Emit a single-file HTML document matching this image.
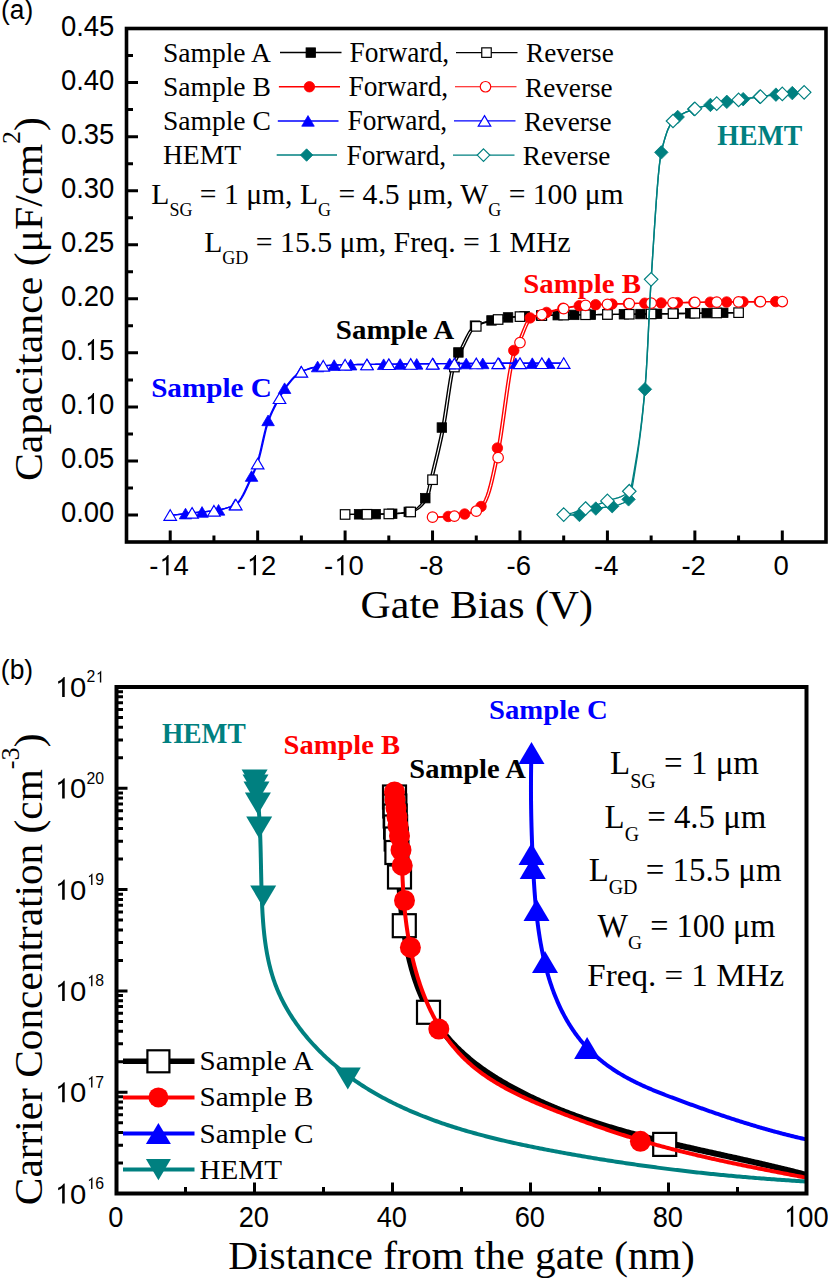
<!DOCTYPE html>
<html><head><meta charset="utf-8"><title>C-V and carrier concentration</title>
<style>html,body{margin:0;padding:0;background:#fff;overflow:hidden;}svg{display:block;}</style>
</head><body>
<svg width="828" height="1280" viewBox="0 0 828 1280">
<rect x="0" y="0" width="828" height="1280" fill="#ffffff"/>
<defs><clipPath id="ca"><rect x="126.5" y="28.5" width="699.5" height="513.5"/></clipPath>
<clipPath id="cb"><rect x="116.5" y="687.0" width="690.0" height="506.5"/></clipPath></defs>
<text id="t_lgA" transform="translate(162.94,61.6) scale(1.0205,1.0000)" font-family='"Liberation Serif", serif' font-size="27">Sample A</text>
<line x1="280" y1="52.6" x2="341.5" y2="52.6" stroke="#000000" stroke-width="1.5"/>
<rect x="306.05" y="47.85" width="9.5" height="9.5" fill="#000000" stroke="#000000" stroke-width="0.8"/>
<text id="t_fw" transform="translate(349.45,62.12) scale(1.0159,1.0535)" font-family='"Liberation Serif", serif' font-size="27">Forward,</text>
<line x1="456" y1="52.6" x2="517.5" y2="52.6" stroke="#000000" stroke-width="1.15"/>
<rect x="481.75" y="47.85" width="9.5" height="9.5" fill="#ffffff" stroke="#000000" stroke-width="1.2"/>
<text id="t_rv" transform="translate(526.11,62.48) scale(1.0076,1.0403)" font-family='"Liberation Serif", serif' font-size="27">Reverse</text>
<text transform="translate(162.94,95.75) scale(1.0205,1.0000)" font-family='"Liberation Serif", serif' font-size="27">Sample B</text>
<line x1="278.9" y1="86.75" x2="340" y2="86.75" stroke="#ff0000" stroke-width="1.5"/>
<circle cx="309.4" cy="86.75" r="5.25" fill="#ff0000" stroke="#ff0000" stroke-width="0.8"/>
<text transform="translate(348.45,96.27) scale(1.0159,1.0535)" font-family='"Liberation Serif", serif' font-size="27">Forward,</text>
<line x1="455" y1="86.75" x2="516.5" y2="86.75" stroke="#ff0000" stroke-width="1.15"/>
<circle cx="485.5" cy="86.75" r="5.25" fill="#ffffff" stroke="#ff0000" stroke-width="1.2"/>
<text transform="translate(525.01,96.63) scale(1.0076,1.0403)" font-family='"Liberation Serif", serif' font-size="27">Reverse</text>
<text transform="translate(162.94,129.9) scale(1.0205,1.0000)" font-family='"Liberation Serif", serif' font-size="27">Sample C</text>
<line x1="277.8" y1="120.9" x2="338.5" y2="120.9" stroke="#0000ff" stroke-width="1.5"/>
<path d="M308,115.59 L314.25,126.21 L301.75,126.21 Z" fill="#0000ff" stroke="#0000ff" stroke-width="0.8" stroke-linejoin="miter"/>
<text transform="translate(347.45,130.42) scale(1.0159,1.0535)" font-family='"Liberation Serif", serif' font-size="27">Forward,</text>
<line x1="454" y1="120.9" x2="515.5" y2="120.9" stroke="#0000ff" stroke-width="1.15"/>
<path d="M484.5,115.59 L490.75,126.21 L478.25,126.21 Z" fill="#ffffff" stroke="#0000ff" stroke-width="1.2" stroke-linejoin="miter"/>
<text transform="translate(523.91,130.78) scale(1.0076,1.0403)" font-family='"Liberation Serif", serif' font-size="27">Reverse</text>
<text transform="translate(162.94,164.05) scale(1.0205,1.0000)" font-family='"Liberation Serif", serif' font-size="27">HEMT</text>
<line x1="276.7" y1="155.05" x2="337" y2="155.05" stroke="#008080" stroke-width="1.5"/>
<path d="M306.6,148.8 L312.85,155.05 L306.6,161.3 L300.35,155.05 Z" fill="#008080" stroke="#008080" stroke-width="0.8"/>
<text transform="translate(346.45,164.57) scale(1.0159,1.0535)" font-family='"Liberation Serif", serif' font-size="27">Forward,</text>
<line x1="453" y1="155.05" x2="514.5" y2="155.05" stroke="#008080" stroke-width="1.15"/>
<path d="M483.5,148.8 L489.75,155.05 L483.5,161.3 L477.25,155.05 Z" fill="#ffffff" stroke="#008080" stroke-width="1.2"/>
<text transform="translate(522.81,164.93) scale(1.0076,1.0403)" font-family='"Liberation Serif", serif' font-size="27">Reverse</text>
<text id="t_par1" transform="translate(151.27,204.24) scale(1.0587,1.0599)" font-family='"Liberation Serif", serif' font-size="28">L<tspan font-size="17" dy="11.5">SG</tspan><tspan dy="-11.5"> = 1 μm, L<tspan font-size="17" dy="11.5">G</tspan><tspan dy="-11.5"> = 4.5 μm, W<tspan font-size="17" dy="11.5">G</tspan><tspan dy="-11.5"> = 100 μm</tspan></tspan></tspan></text>
<text id="t_par2" transform="translate(204.13,252.12) scale(1.0635,1.0600)" font-family='"Liberation Serif", serif' font-size="28">L<tspan font-size="17" dy="11.5">GD</tspan><tspan dy="-11.5"> = 15.5 μm, Freq. = 1 MHz</tspan></text>
<text id="t_bA" transform="translate(335.82,339.09) scale(1.0357,0.9813)" font-family='"Liberation Serif", serif' font-size="28" font-weight="bold" fill="#000000">Sample A</text>
<text id="t_bB" transform="translate(523.16,292.86) scale(1.0309,0.9895)" font-family='"Liberation Serif", serif' font-size="28" font-weight="bold" fill="#ff0000">Sample B</text>
<text id="t_bC" transform="translate(151.13,396.9) scale(1.0427,0.9813)" font-family='"Liberation Serif", serif' font-size="28" font-weight="bold" fill="#0000ff">Sample C</text>
<text id="t_bH" transform="translate(717.37,145.34) scale(0.9913,1.0500)" font-family='"Liberation Serif", serif' font-size="28" font-weight="bold" fill="#008080">HEMT</text>
<g clip-path="url(#ca)">
<path d="M346.41,514.43 L348.05,514.42 L349.68,514.4 L351.32,514.39 L352.95,514.37 L354.59,514.36 L356.22,514.34 L357.86,514.33 L359.49,514.32 L361.13,514.3 L362.77,514.29 L364.4,514.27 L366.04,514.26 L367.67,514.24 L369.31,514.22 L370.94,514.2 L372.58,514.18 L374.21,514.16 L375.85,514.14 L377.48,514.12 L379.12,514.09 L380.75,514.06 L382.39,514.03 L384.03,514 L385.66,513.96 L387.3,513.92 L388.93,513.88 L390.57,513.82 L392.2,513.74 L393.84,513.64 L395.47,513.53 L397.11,513.4 L398.74,513.25 L400.38,513.08 L402.01,512.89 L403.65,512.67 L405.29,512.44 L406.92,512.18 L408.56,511.9 L410.19,511.58 L411.83,511.06 L413.46,510.33 L415.1,509.38 L416.73,508.21 L418.37,506.8 L420,505.16 L421.64,503.27 L423.27,501.14 L424.91,498.77 L426.55,494.73 L428.18,487.93 L429.82,480.18 L431.45,473.15 L433.09,466.45 L434.72,459.72 L436.36,452.86 L437.99,445.77 L439.63,438.38 L441.26,430.56 L442.9,421.58 L444.53,411.19 L446.17,400.11 L447.81,389.09 L449.44,378.85 L451.08,370.13 L452.71,363.67 L454.35,359.63 L455.98,356.64 L457.62,353.89 L459.25,350.82 L460.89,347.51 L462.52,344.1 L464.16,340.67 L465.79,337.36 L467.43,334.26 L469.07,331.48 L470.7,329.13 L472.34,327.34 L473.97,326.18 L475.61,325.32 L477.24,324.58 L478.88,323.92 L480.51,323.35 L482.15,322.84 L483.78,322.37 L485.42,321.94 L487.05,321.53 L488.69,321.13 L490.33,320.72 L491.96,320.33 L493.6,319.94 L495.23,319.57 L496.87,319.22 L498.5,318.88 L500.14,318.57 L501.77,318.28 L503.41,318.02 L505.04,317.79 L506.68,317.58 L508.31,317.39 L509.95,317.22 L511.59,317.07 L513.22,316.92 L514.86,316.79 L516.49,316.67 L518.13,316.56 L519.76,316.46 L521.4,316.37 L523.03,316.27 L524.67,316.19 L526.3,316.1 L527.94,316.02 L529.57,315.94 L531.21,315.87 L532.85,315.81 L534.48,315.74 L536.12,315.69 L537.75,315.63 L539.39,315.59 L541.02,315.54 L542.66,315.5 L544.29,315.46 L545.93,315.43 L547.56,315.39 L549.2,315.35 L550.83,315.32 L552.47,315.28 L554.11,315.25 L555.74,315.21 L557.38,315.18 L559.01,315.15 L560.65,315.12 L562.28,315.09 L563.92,315.06 L565.55,315.03 L567.19,315 L568.82,314.98 L570.46,314.95 L572.09,314.92 L573.73,314.9 L575.37,314.87 L577,314.85 L578.64,314.83 L580.27,314.8 L581.91,314.78 L583.54,314.76 L585.18,314.73 L586.81,314.71 L588.45,314.69 L590.08,314.67 L591.72,314.65 L593.35,314.63 L594.99,314.61 L596.63,314.59 L598.26,314.57 L599.9,314.55 L601.53,314.53 L603.17,314.51 L604.8,314.49 L606.44,314.47 L608.07,314.45 L609.71,314.43 L611.34,314.42 L612.98,314.4 L614.61,314.38 L616.25,314.36 L617.89,314.34 L619.52,314.32 L621.16,314.3 L622.79,314.28 L624.43,314.26 L626.06,314.25 L627.7,314.23 L629.33,314.21 L630.97,314.19 L632.6,314.17 L634.24,314.15 L635.87,314.13 L637.51,314.1 L639.15,314.08 L640.78,314.06 L642.42,314.04 L644.05,314.02 L645.69,313.99 L647.32,313.97 L648.96,313.95 L650.59,313.92 L652.23,313.9 L653.86,313.87 L655.5,313.85 L657.13,313.83 L658.77,313.8 L660.41,313.78 L662.04,313.75 L663.68,313.73 L665.31,313.7 L666.95,313.68 L668.58,313.66 L670.22,313.63 L671.85,313.61 L673.49,313.58 L675.12,313.56 L676.76,313.53 L678.39,313.51 L680.03,313.49 L681.67,313.46 L683.3,313.44 L684.94,313.41 L686.57,313.39 L688.21,313.36 L689.84,313.34 L691.48,313.32 L693.11,313.29 L694.75,313.27 L696.38,313.24 L698.02,313.22 L699.65,313.19 L701.29,313.17 L702.93,313.15 L704.56,313.12 L706.2,313.1 L707.83,313.07 L709.47,313.05 L711.1,313.02 L712.74,313 L714.37,312.98 L716.01,312.95 L717.64,312.93 L719.28,312.9 L720.91,312.88 L722.55,312.86 L724.19,312.83 L725.82,312.81 L727.46,312.78 L729.09,312.76 L730.73,312.73 L732.36,312.71 L734,312.69 L735.63,312.66 L737.27,312.64" fill="none" stroke="#000000" stroke-width="1.4"/>
<rect x="354.34" y="509.57" width="9.5" height="9.5" fill="#000000" stroke="#000000" stroke-width="0.8"/>
<rect x="370.89" y="509.39" width="9.5" height="9.5" fill="#000000" stroke="#000000" stroke-width="0.8"/>
<rect x="387.45" y="508.99" width="9.5" height="9.5" fill="#000000" stroke="#000000" stroke-width="0.8"/>
<rect x="404" y="507.12" width="9.5" height="9.5" fill="#000000" stroke="#000000" stroke-width="0.8"/>
<rect x="420.55" y="493.38" width="9.5" height="9.5" fill="#000000" stroke="#000000" stroke-width="0.8"/>
<rect x="437.1" y="422.79" width="9.5" height="9.5" fill="#000000" stroke="#000000" stroke-width="0.8"/>
<rect x="453.65" y="347.7" width="9.5" height="9.5" fill="#000000" stroke="#000000" stroke-width="0.8"/>
<rect x="470.21" y="320.9" width="9.5" height="9.5" fill="#000000" stroke="#000000" stroke-width="0.8"/>
<rect x="486.76" y="315.68" width="9.5" height="9.5" fill="#000000" stroke="#000000" stroke-width="0.8"/>
<rect x="503.31" y="312.67" width="9.5" height="9.5" fill="#000000" stroke="#000000" stroke-width="0.8"/>
<rect x="519.86" y="311.44" width="9.5" height="9.5" fill="#000000" stroke="#000000" stroke-width="0.8"/>
<rect x="536.42" y="310.79" width="9.5" height="9.5" fill="#000000" stroke="#000000" stroke-width="0.8"/>
<rect x="552.97" y="310.43" width="9.5" height="9.5" fill="#000000" stroke="#000000" stroke-width="0.8"/>
<rect x="569.52" y="310.14" width="9.5" height="9.5" fill="#000000" stroke="#000000" stroke-width="0.8"/>
<rect x="586.07" y="309.91" width="9.5" height="9.5" fill="#000000" stroke="#000000" stroke-width="0.8"/>
<rect x="602.63" y="309.71" width="9.5" height="9.5" fill="#000000" stroke="#000000" stroke-width="0.8"/>
<rect x="619.18" y="309.52" width="9.5" height="9.5" fill="#000000" stroke="#000000" stroke-width="0.8"/>
<rect x="635.73" y="309.32" width="9.5" height="9.5" fill="#000000" stroke="#000000" stroke-width="0.8"/>
<rect x="652.28" y="309.08" width="9.5" height="9.5" fill="#000000" stroke="#000000" stroke-width="0.8"/>
<rect x="668.84" y="308.83" width="9.5" height="9.5" fill="#000000" stroke="#000000" stroke-width="0.8"/>
<rect x="685.39" y="308.59" width="9.5" height="9.5" fill="#000000" stroke="#000000" stroke-width="0.8"/>
<rect x="701.94" y="308.34" width="9.5" height="9.5" fill="#000000" stroke="#000000" stroke-width="0.8"/>
<rect x="718.49" y="308.09" width="9.5" height="9.5" fill="#000000" stroke="#000000" stroke-width="0.8"/>
<path d="M346.41,514.46 L348.05,514.44 L349.68,514.43 L351.32,514.41 L352.95,514.4 L354.59,514.38 L356.22,514.37 L357.86,514.35 L359.49,514.34 L361.13,514.33 L362.77,514.31 L364.4,514.3 L366.04,514.28 L367.67,514.27 L369.31,514.25 L370.94,514.23 L372.58,514.22 L374.21,514.2 L375.85,514.18 L377.48,514.15 L379.12,514.13 L380.75,514.1 L382.39,514.08 L384.03,514.05 L385.66,514.02 L387.3,513.98 L388.93,513.95 L390.57,513.91 L392.2,513.86 L393.84,513.79 L395.47,513.7 L397.11,513.6 L398.74,513.48 L400.38,513.34 L402.01,513.18 L403.65,513 L405.29,512.8 L406.92,512.58 L408.56,512.34 L410.19,512.08 L411.83,511.79 L413.46,511.4 L415.1,510.8 L416.73,509.98 L418.37,508.94 L420,507.68 L421.64,506.18 L423.27,504.44 L424.91,502.46 L426.55,500.23 L428.18,497.6 L429.82,492.27 L431.45,484.87 L433.09,477.26 L434.72,470.49 L436.36,463.79 L437.99,457.02 L439.63,450.08 L441.26,442.89 L442.9,435.34 L444.53,427.23 L446.17,417.6 L447.81,406.84 L449.44,395.7 L451.08,384.9 L452.71,375.18 L454.35,367.26 L455.98,361.88 L457.62,358.36 L459.25,355.57 L460.89,352.71 L462.52,349.53 L464.16,346.17 L465.79,342.74 L467.43,339.34 L469.07,336.1 L470.7,333.11 L472.34,330.49 L473.97,328.35 L475.61,326.8 L477.24,325.83 L478.88,325.02 L480.51,324.31 L482.15,323.69 L483.78,323.14 L485.42,322.65 L487.05,322.2 L488.69,321.78 L490.33,321.38 L491.96,320.97 L493.6,320.56 L495.23,320.17 L496.87,319.79 L498.5,319.43 L500.14,319.08 L501.77,318.76 L503.41,318.46 L505.04,318.18 L506.68,317.92 L508.31,317.7 L509.95,317.5 L511.59,317.32 L513.22,317.16 L514.86,317.01 L516.49,316.87 L518.13,316.74 L519.76,316.63 L521.4,316.52 L523.03,316.42 L524.67,316.33 L526.3,316.24 L527.94,316.15 L529.57,316.07 L531.21,315.99 L532.85,315.92 L534.48,315.85 L536.12,315.78 L537.75,315.72 L539.39,315.66 L541.02,315.61 L542.66,315.57 L544.29,315.53 L545.93,315.49 L547.56,315.45 L549.2,315.41 L550.83,315.37 L552.47,315.34 L554.11,315.3 L555.74,315.27 L557.38,315.23 L559.01,315.2 L560.65,315.17 L562.28,315.14 L563.92,315.11 L565.55,315.08 L567.19,315.05 L568.82,315.02 L570.46,314.99 L572.09,314.97 L573.73,314.94 L575.37,314.91 L577,314.89 L578.64,314.86 L580.27,314.84 L581.91,314.82 L583.54,314.79 L585.18,314.77 L586.81,314.75 L588.45,314.73 L590.08,314.7 L591.72,314.68 L593.35,314.66 L594.99,314.64 L596.63,314.62 L598.26,314.6 L599.9,314.58 L601.53,314.56 L603.17,314.54 L604.8,314.52 L606.44,314.5 L608.07,314.48 L609.71,314.46 L611.34,314.45 L612.98,314.43 L614.61,314.41 L616.25,314.39 L617.89,314.37 L619.52,314.35 L621.16,314.33 L622.79,314.31 L624.43,314.3 L626.06,314.28 L627.7,314.26 L629.33,314.24 L630.97,314.22 L632.6,314.2 L634.24,314.18 L635.87,314.16 L637.51,314.14 L639.15,314.12 L640.78,314.1 L642.42,314.07 L644.05,314.05 L645.69,314.03 L647.32,314.01 L648.96,313.98 L650.59,313.96 L652.23,313.94 L653.86,313.91 L655.5,313.89 L657.13,313.86 L658.77,313.84 L660.41,313.82 L662.04,313.79 L663.68,313.77 L665.31,313.74 L666.95,313.72 L668.58,313.69 L670.22,313.67 L671.85,313.65 L673.49,313.62 L675.12,313.6 L676.76,313.57 L678.39,313.55 L680.03,313.52 L681.67,313.5 L683.3,313.48 L684.94,313.45 L686.57,313.43 L688.21,313.4 L689.84,313.38 L691.48,313.36 L693.11,313.33 L694.75,313.31 L696.38,313.28 L698.02,313.26 L699.65,313.23 L701.29,313.21 L702.93,313.19 L704.56,313.16 L706.2,313.14 L707.83,313.11 L709.47,313.09 L711.1,313.06 L712.74,313.04 L714.37,313.02 L716.01,312.99 L717.64,312.97 L719.28,312.94 L720.91,312.92 L722.55,312.89 L724.19,312.87 L725.82,312.85 L727.46,312.82 L729.09,312.8 L730.73,312.77 L732.36,312.75 L734,312.72 L735.63,312.7 L737.27,312.68" fill="none" stroke="#000000" stroke-width="1.4"/>
<rect x="340.35" y="509.72" width="9.5" height="9.5" fill="#ffffff" stroke="#000000" stroke-width="1.2"/>
<rect x="362.21" y="509.52" width="9.5" height="9.5" fill="#ffffff" stroke="#000000" stroke-width="1.2"/>
<rect x="384.07" y="509.2" width="9.5" height="9.5" fill="#ffffff" stroke="#000000" stroke-width="1.2"/>
<rect x="405.93" y="507.24" width="9.5" height="9.5" fill="#ffffff" stroke="#000000" stroke-width="1.2"/>
<rect x="427.79" y="474.96" width="9.5" height="9.5" fill="#ffffff" stroke="#000000" stroke-width="1.2"/>
<rect x="449.65" y="362.3" width="9.5" height="9.5" fill="#ffffff" stroke="#000000" stroke-width="1.2"/>
<rect x="471.51" y="321.62" width="9.5" height="9.5" fill="#ffffff" stroke="#000000" stroke-width="1.2"/>
<rect x="493.37" y="314.76" width="9.5" height="9.5" fill="#ffffff" stroke="#000000" stroke-width="1.2"/>
<rect x="515.23" y="311.86" width="9.5" height="9.5" fill="#ffffff" stroke="#000000" stroke-width="1.2"/>
<rect x="537.09" y="310.84" width="9.5" height="9.5" fill="#ffffff" stroke="#000000" stroke-width="1.2"/>
<rect x="558.95" y="310.36" width="9.5" height="9.5" fill="#ffffff" stroke="#000000" stroke-width="1.2"/>
<rect x="580.81" y="310.01" width="9.5" height="9.5" fill="#ffffff" stroke="#000000" stroke-width="1.2"/>
<rect x="602.67" y="309.74" width="9.5" height="9.5" fill="#ffffff" stroke="#000000" stroke-width="1.2"/>
<rect x="624.53" y="309.49" width="9.5" height="9.5" fill="#ffffff" stroke="#000000" stroke-width="1.2"/>
<rect x="646.39" y="309.2" width="9.5" height="9.5" fill="#ffffff" stroke="#000000" stroke-width="1.2"/>
<rect x="668.25" y="308.88" width="9.5" height="9.5" fill="#ffffff" stroke="#000000" stroke-width="1.2"/>
<rect x="690.11" y="308.55" width="9.5" height="9.5" fill="#ffffff" stroke="#000000" stroke-width="1.2"/>
<rect x="711.97" y="308.23" width="9.5" height="9.5" fill="#ffffff" stroke="#000000" stroke-width="1.2"/>
<rect x="733.83" y="307.91" width="9.5" height="9.5" fill="#ffffff" stroke="#000000" stroke-width="1.2"/>
<path d="M433.85,517.14 L435.3,517.11 L436.76,517.08 L438.21,517.03 L439.66,516.97 L441.11,516.9 L442.57,516.82 L444.02,516.74 L445.47,516.65 L446.92,516.55 L448.38,516.45 L449.83,516.34 L451.28,516.23 L452.73,516.11 L454.19,515.98 L455.64,515.82 L457.09,515.62 L458.54,515.38 L460,515.11 L461.45,514.82 L462.9,514.49 L464.35,514.13 L465.81,513.74 L467.26,513.32 L468.71,512.87 L470.16,512.4 L471.62,511.91 L473.07,511.39 L474.52,510.84 L475.97,510.25 L477.43,509.49 L478.88,508.53 L480.33,507.3 L481.78,505.41 L483.24,502.75 L484.69,499.53 L486.14,495.95 L487.59,491.67 L489.04,486.56 L490.5,480.77 L491.95,474.44 L493.4,467.73 L494.85,460.76 L496.31,453.69 L497.76,446.01 L499.21,437.15 L500.66,427.43 L502.12,417.15 L503.57,406.6 L505.02,396.1 L506.47,385.94 L507.93,376.43 L509.38,367.86 L510.83,360.55 L512.28,354.79 L513.74,350.54 L515.19,347.07 L516.64,344.04 L518.09,341.1 L519.55,337.89 L521,334.37 L522.45,330.72 L523.9,327.17 L525.36,323.93 L526.81,321.21 L528.26,319.24 L529.71,318.14 L531.17,317.38 L532.62,316.76 L534.07,316.24 L535.52,315.79 L536.98,315.38 L538.43,314.97 L539.88,314.54 L541.33,314.08 L542.79,313.61 L544.24,313.15 L545.69,312.69 L547.14,312.24 L548.6,311.8 L550.05,311.37 L551.5,310.95 L552.95,310.54 L554.41,310.15 L555.86,309.78 L557.31,309.43 L558.76,309.09 L560.22,308.78 L561.67,308.5 L563.12,308.23 L564.57,307.96 L566.03,307.69 L567.48,307.43 L568.93,307.18 L570.38,306.94 L571.83,306.7 L573.29,306.48 L574.74,306.27 L576.19,306.07 L577.64,305.89 L579.1,305.72 L580.55,305.57 L582,305.45 L583.45,305.34 L584.91,305.25 L586.36,305.16 L587.81,305.08 L589.26,305 L590.72,304.92 L592.17,304.85 L593.62,304.78 L595.07,304.7 L596.53,304.64 L597.98,304.57 L599.43,304.5 L600.88,304.44 L602.34,304.38 L603.79,304.32 L605.24,304.26 L606.69,304.21 L608.15,304.15 L609.6,304.1 L611.05,304.05 L612.5,304 L613.96,303.95 L615.41,303.91 L616.86,303.86 L618.31,303.82 L619.77,303.78 L621.22,303.74 L622.67,303.7 L624.12,303.66 L625.58,303.62 L627.03,303.59 L628.48,303.55 L629.93,303.52 L631.39,303.48 L632.84,303.45 L634.29,303.42 L635.74,303.39 L637.2,303.36 L638.65,303.33 L640.1,303.3 L641.55,303.27 L643.01,303.25 L644.46,303.22 L645.91,303.19 L647.36,303.17 L648.81,303.14 L650.27,303.12 L651.72,303.09 L653.17,303.07 L654.62,303.04 L656.08,303.02 L657.53,302.99 L658.98,302.97 L660.43,302.94 L661.89,302.92 L663.34,302.89 L664.79,302.87 L666.24,302.85 L667.7,302.82 L669.15,302.8 L670.6,302.78 L672.05,302.75 L673.51,302.73 L674.96,302.7 L676.41,302.68 L677.86,302.66 L679.32,302.64 L680.77,302.61 L682.22,302.59 L683.67,302.57 L685.13,302.55 L686.58,302.52 L688.03,302.5 L689.48,302.48 L690.94,302.46 L692.39,302.44 L693.84,302.41 L695.29,302.39 L696.75,302.37 L698.2,302.35 L699.65,302.33 L701.1,302.31 L702.56,302.29 L704.01,302.27 L705.46,302.25 L706.91,302.23 L708.37,302.21 L709.82,302.19 L711.27,302.17 L712.72,302.15 L714.18,302.13 L715.63,302.11 L717.08,302.1 L718.53,302.08 L719.99,302.06 L721.44,302.04 L722.89,302.02 L724.34,302.01 L725.8,301.99 L727.25,301.97 L728.7,301.96 L730.15,301.94 L731.6,301.92 L733.06,301.91 L734.51,301.89 L735.96,301.88 L737.41,301.86 L738.87,301.85 L740.32,301.83 L741.77,301.82 L743.22,301.81 L744.68,301.79 L746.13,301.78 L747.58,301.76 L749.03,301.75 L750.49,301.74 L751.94,301.73 L753.39,301.71 L754.84,301.7 L756.3,301.69 L757.75,301.68 L759.2,301.67 L760.65,301.66 L762.11,301.65 L763.56,301.64 L765.01,301.63 L766.46,301.62 L767.92,301.61 L769.37,301.6 L770.82,301.59 L772.27,301.59 L773.73,301.58 L775.18,301.57 L776.63,301.56 L778.08,301.56 L779.54,301.55 L780.99,301.55" fill="none" stroke="#ff0000" stroke-width="1.4"/>
<circle cx="448.28" cy="516.46" r="5.25" fill="#ff0000" stroke="#ff0000" stroke-width="0.8"/>
<circle cx="464.65" cy="514.05" r="5.25" fill="#ff0000" stroke="#ff0000" stroke-width="0.8"/>
<circle cx="481.03" cy="506.51" r="5.25" fill="#ff0000" stroke="#ff0000" stroke-width="0.8"/>
<circle cx="497.4" cy="448.04" r="5.25" fill="#ff0000" stroke="#ff0000" stroke-width="0.8"/>
<circle cx="513.77" cy="350.44" r="5.25" fill="#ff0000" stroke="#ff0000" stroke-width="0.8"/>
<circle cx="530.14" cy="317.9" r="5.25" fill="#ff0000" stroke="#ff0000" stroke-width="0.8"/>
<circle cx="546.52" cy="312.44" r="5.25" fill="#ff0000" stroke="#ff0000" stroke-width="0.8"/>
<circle cx="562.89" cy="308.27" r="5.25" fill="#ff0000" stroke="#ff0000" stroke-width="0.8"/>
<circle cx="579.26" cy="305.7" r="5.25" fill="#ff0000" stroke="#ff0000" stroke-width="0.8"/>
<circle cx="595.64" cy="304.68" r="5.25" fill="#ff0000" stroke="#ff0000" stroke-width="0.8"/>
<circle cx="612.01" cy="304.02" r="5.25" fill="#ff0000" stroke="#ff0000" stroke-width="0.8"/>
<circle cx="628.38" cy="303.55" r="5.25" fill="#ff0000" stroke="#ff0000" stroke-width="0.8"/>
<circle cx="644.76" cy="303.21" r="5.25" fill="#ff0000" stroke="#ff0000" stroke-width="0.8"/>
<circle cx="661.13" cy="302.93" r="5.25" fill="#ff0000" stroke="#ff0000" stroke-width="0.8"/>
<circle cx="677.5" cy="302.66" r="5.25" fill="#ff0000" stroke="#ff0000" stroke-width="0.8"/>
<circle cx="693.88" cy="302.41" r="5.25" fill="#ff0000" stroke="#ff0000" stroke-width="0.8"/>
<circle cx="710.25" cy="302.18" r="5.25" fill="#ff0000" stroke="#ff0000" stroke-width="0.8"/>
<circle cx="726.62" cy="301.98" r="5.25" fill="#ff0000" stroke="#ff0000" stroke-width="0.8"/>
<circle cx="743" cy="301.81" r="5.25" fill="#ff0000" stroke="#ff0000" stroke-width="0.8"/>
<circle cx="759.37" cy="301.67" r="5.25" fill="#ff0000" stroke="#ff0000" stroke-width="0.8"/>
<circle cx="775.74" cy="301.57" r="5.25" fill="#ff0000" stroke="#ff0000" stroke-width="0.8"/>
<path d="M433.85,517.16 L435.3,517.16 L436.76,517.14 L438.21,517.11 L439.66,517.07 L441.11,517.02 L442.57,516.96 L444.02,516.89 L445.47,516.81 L446.92,516.72 L448.38,516.63 L449.83,516.53 L451.28,516.43 L452.73,516.32 L454.19,516.2 L455.64,516.09 L457.09,515.95 L458.54,515.78 L460,515.57 L461.45,515.33 L462.9,515.06 L464.35,514.75 L465.81,514.42 L467.26,514.05 L468.71,513.66 L470.16,513.23 L471.62,512.78 L473.07,512.31 L474.52,511.81 L475.97,511.28 L477.43,510.73 L478.88,510.11 L480.33,509.33 L481.78,508.32 L483.24,507.01 L484.69,504.95 L486.14,502.17 L487.59,498.86 L489.04,495.19 L490.5,490.73 L491.95,485.48 L493.4,479.58 L494.85,473.17 L496.31,466.39 L497.76,459.39 L499.21,452.31 L500.66,444.37 L502.12,435.32 L503.57,425.47 L505.02,415.11 L506.47,404.55 L507.93,394.09 L509.38,384.04 L510.83,374.68 L512.28,366.34 L513.74,359.3 L515.19,353.87 L516.64,349.81 L518.09,346.46 L519.55,343.48 L521,340.51 L522.45,337.23 L523.9,333.66 L525.36,330.02 L526.81,326.51 L528.26,323.36 L529.71,320.77 L531.17,318.96 L532.62,317.98 L534.07,317.25 L535.52,316.65 L536.98,316.15 L538.43,315.71 L539.88,315.3 L541.33,314.89 L542.79,314.45 L544.24,313.99 L545.69,313.52 L547.14,313.06 L548.6,312.61 L550.05,312.16 L551.5,311.72 L552.95,311.29 L554.41,310.87 L555.86,310.47 L557.31,310.08 L558.76,309.71 L560.22,309.36 L561.67,309.03 L563.12,308.73 L564.57,308.45 L566.03,308.17 L567.48,307.9 L568.93,307.64 L570.38,307.38 L571.83,307.13 L573.29,306.89 L574.74,306.66 L576.19,306.44 L577.64,306.23 L579.1,306.03 L580.55,305.86 L582,305.69 L583.45,305.55 L584.91,305.42 L586.36,305.32 L587.81,305.23 L589.26,305.15 L590.72,305.07 L592.17,304.99 L593.62,304.91 L595.07,304.83 L596.53,304.76 L597.98,304.69 L599.43,304.62 L600.88,304.56 L602.34,304.49 L603.79,304.43 L605.24,304.37 L606.69,304.31 L608.15,304.25 L609.6,304.2 L611.05,304.14 L612.5,304.09 L613.96,304.04 L615.41,303.99 L616.86,303.95 L618.31,303.9 L619.77,303.85 L621.22,303.81 L622.67,303.77 L624.12,303.73 L625.58,303.69 L627.03,303.65 L628.48,303.61 L629.93,303.58 L631.39,303.54 L632.84,303.51 L634.29,303.48 L635.74,303.44 L637.2,303.41 L638.65,303.38 L640.1,303.35 L641.55,303.32 L643.01,303.3 L644.46,303.27 L645.91,303.24 L647.36,303.21 L648.81,303.19 L650.27,303.16 L651.72,303.14 L653.17,303.11 L654.62,303.09 L656.08,303.06 L657.53,303.04 L658.98,303.01 L660.43,302.99 L661.89,302.96 L663.34,302.94 L664.79,302.91 L666.24,302.89 L667.7,302.87 L669.15,302.84 L670.6,302.82 L672.05,302.79 L673.51,302.77 L674.96,302.75 L676.41,302.72 L677.86,302.7 L679.32,302.68 L680.77,302.65 L682.22,302.63 L683.67,302.61 L685.13,302.59 L686.58,302.56 L688.03,302.54 L689.48,302.52 L690.94,302.5 L692.39,302.47 L693.84,302.45 L695.29,302.43 L696.75,302.41 L698.2,302.39 L699.65,302.37 L701.1,302.35 L702.56,302.33 L704.01,302.31 L705.46,302.29 L706.91,302.27 L708.37,302.25 L709.82,302.23 L711.27,302.21 L712.72,302.19 L714.18,302.17 L715.63,302.15 L717.08,302.13 L718.53,302.11 L719.99,302.09 L721.44,302.07 L722.89,302.06 L724.34,302.04 L725.8,302.02 L727.25,302 L728.7,301.99 L730.15,301.97 L731.6,301.95 L733.06,301.94 L734.51,301.92 L735.96,301.91 L737.41,301.89 L738.87,301.87 L740.32,301.86 L741.77,301.85 L743.22,301.83 L744.68,301.82 L746.13,301.8 L747.58,301.79 L749.03,301.78 L750.49,301.76 L751.94,301.75 L753.39,301.74 L754.84,301.72 L756.3,301.71 L757.75,301.7 L759.2,301.69 L760.65,301.68 L762.11,301.67 L763.56,301.66 L765.01,301.65 L766.46,301.64 L767.92,301.63 L769.37,301.62 L770.82,301.61 L772.27,301.6 L773.73,301.59 L775.18,301.59 L776.63,301.58 L778.08,301.57 L779.54,301.56 L780.99,301.56" fill="none" stroke="#ff0000" stroke-width="1.4"/>
<circle cx="432.54" cy="517.16" r="5.25" fill="#ffffff" stroke="#ff0000" stroke-width="1.2"/>
<circle cx="454.4" cy="516.19" r="5.25" fill="#ffffff" stroke="#ff0000" stroke-width="1.2"/>
<circle cx="476.26" cy="511.17" r="5.25" fill="#ffffff" stroke="#ff0000" stroke-width="1.2"/>
<circle cx="498.12" cy="457.64" r="5.25" fill="#ffffff" stroke="#ff0000" stroke-width="1.2"/>
<circle cx="519.98" cy="342.6" r="5.25" fill="#ffffff" stroke="#ff0000" stroke-width="1.2"/>
<circle cx="541.84" cy="314.74" r="5.25" fill="#ffffff" stroke="#ff0000" stroke-width="1.2"/>
<circle cx="563.7" cy="308.61" r="5.25" fill="#ffffff" stroke="#ff0000" stroke-width="1.2"/>
<circle cx="585.56" cy="305.37" r="5.25" fill="#ffffff" stroke="#ff0000" stroke-width="1.2"/>
<circle cx="607.42" cy="304.28" r="5.25" fill="#ffffff" stroke="#ff0000" stroke-width="1.2"/>
<circle cx="629.28" cy="303.59" r="5.25" fill="#ffffff" stroke="#ff0000" stroke-width="1.2"/>
<circle cx="651.14" cy="303.15" r="5.25" fill="#ffffff" stroke="#ff0000" stroke-width="1.2"/>
<circle cx="673" cy="302.78" r="5.25" fill="#ffffff" stroke="#ff0000" stroke-width="1.2"/>
<circle cx="694.86" cy="302.44" r="5.25" fill="#ffffff" stroke="#ff0000" stroke-width="1.2"/>
<circle cx="716.72" cy="302.13" r="5.25" fill="#ffffff" stroke="#ff0000" stroke-width="1.2"/>
<circle cx="738.58" cy="301.88" r="5.25" fill="#ffffff" stroke="#ff0000" stroke-width="1.2"/>
<circle cx="760.44" cy="301.68" r="5.25" fill="#ffffff" stroke="#ff0000" stroke-width="1.2"/>
<circle cx="782.3" cy="301.55" r="5.25" fill="#ffffff" stroke="#ff0000" stroke-width="1.2"/>
<path d="M170.66,514.99 L172.3,514.95 L173.94,514.86 L175.59,514.74 L177.23,514.58 L178.87,514.41 L180.51,514.21 L182.16,514.01 L183.8,513.79 L185.44,513.58 L187.08,513.36 L188.73,513.16 L190.37,512.97 L192.01,512.8 L193.66,512.65 L195.3,512.5 L196.94,512.36 L198.58,512.22 L200.23,512.09 L201.87,511.95 L203.51,511.81 L205.15,511.66 L206.8,511.49 L208.44,511.32 L210.08,511.13 L211.72,510.92 L213.37,510.7 L215.01,510.45 L216.65,510.18 L218.3,509.89 L219.94,509.57 L221.58,509.23 L223.22,508.84 L224.87,508.41 L226.51,507.94 L228.15,507.42 L229.79,506.84 L231.44,506.2 L233.08,505.5 L234.72,504.73 L236.37,503.77 L238.01,502.23 L239.65,500.14 L241.29,497.58 L242.94,494.63 L244.58,491.38 L246.22,487.91 L247.86,484.29 L249.51,480.62 L251.15,476.98 L252.79,473.43 L254.43,469.72 L256.08,465.58 L257.72,460.81 L259.36,454.79 L261.01,447.82 L262.65,440.47 L264.29,433.3 L265.93,426.88 L267.58,421.75 L269.22,417.45 L270.86,413.54 L272.5,409.94 L274.15,406.59 L275.79,403.43 L277.43,400.39 L279.08,397.4 L280.72,394.46 L282.36,391.64 L284,389.06 L285.65,386.79 L287.29,384.71 L288.93,382.67 L290.57,380.69 L292.22,378.8 L293.86,377.04 L295.5,375.44 L297.15,374.03 L298.79,372.84 L300.43,371.9 L302.07,371.18 L303.72,370.51 L305.36,369.88 L307,369.29 L308.64,368.74 L310.29,368.23 L311.93,367.76 L313.57,367.34 L315.21,366.97 L316.86,366.63 L318.5,366.35 L320.14,366.11 L321.79,365.92 L323.43,365.77 L325.07,365.64 L326.71,365.52 L328.36,365.41 L330,365.3 L331.64,365.21 L333.28,365.12 L334.93,365.04 L336.57,364.97 L338.21,364.9 L339.86,364.85 L341.5,364.8 L343.14,364.77 L344.78,364.74 L346.43,364.71 L348.07,364.69 L349.71,364.67 L351.35,364.64 L353,364.62 L354.64,364.59 L356.28,364.57 L357.93,364.55 L359.57,364.53 L361.21,364.5 L362.85,364.48 L364.5,364.46 L366.14,364.44 L367.78,364.41 L369.42,364.39 L371.07,364.37 L372.71,364.35 L374.35,364.33 L375.99,364.31 L377.64,364.29 L379.28,364.27 L380.92,364.25 L382.57,364.23 L384.21,364.21 L385.85,364.19 L387.49,364.17 L389.14,364.15 L390.78,364.13 L392.42,364.11 L394.06,364.09 L395.71,364.08 L397.35,364.06 L398.99,364.04 L400.64,364.02 L402.28,364.01 L403.92,363.99 L405.56,363.97 L407.21,363.95 L408.85,363.94 L410.49,363.92 L412.13,363.9 L413.78,363.89 L415.42,363.87 L417.06,363.86 L418.71,363.84 L420.35,363.83 L421.99,363.81 L423.63,363.8 L425.28,363.78 L426.92,363.77 L428.56,363.75 L430.2,363.74 L431.85,363.72 L433.49,363.71 L435.13,363.7 L436.77,363.68 L438.42,363.67 L440.06,363.66 L441.7,363.64 L443.35,363.63 L444.99,363.62 L446.63,363.6 L448.27,363.59 L449.92,363.58 L451.56,363.57 L453.2,363.56 L454.84,363.55 L456.49,363.53 L458.13,363.52 L459.77,363.51 L461.42,363.5 L463.06,363.49 L464.7,363.48 L466.34,363.47 L467.99,363.46 L469.63,363.45 L471.27,363.44 L472.91,363.43 L474.56,363.42 L476.2,363.41 L477.84,363.4 L479.49,363.39 L481.13,363.38 L482.77,363.37 L484.41,363.37 L486.06,363.36 L487.7,363.35 L489.34,363.34 L490.98,363.33 L492.63,363.33 L494.27,363.32 L495.91,363.31 L497.55,363.3 L499.2,363.3 L500.84,363.29 L502.48,363.28 L504.13,363.28 L505.77,363.27 L507.41,363.26 L509.05,363.26 L510.7,363.25 L512.34,363.24 L513.98,363.24 L515.62,363.23 L517.27,363.23 L518.91,363.22 L520.55,363.22 L522.2,363.21 L523.84,363.21 L525.48,363.2 L527.12,363.2 L528.77,363.19 L530.41,363.19 L532.05,363.18 L533.69,363.18 L535.34,363.18 L536.98,363.17 L538.62,363.17 L540.26,363.17 L541.91,363.16 L543.55,363.16 L545.19,363.16 L546.84,363.15 L548.48,363.15 L550.12,363.15 L551.76,363.14 L553.41,363.14 L555.05,363.14 L556.69,363.14 L558.33,363.14 L559.98,363.13 L561.62,363.13 L563.26,363.13" fill="none" stroke="#0000ff" stroke-width="1.4"/>
<path d="M185.52,508.25 L191.77,518.88 L179.27,518.88 Z" fill="#0000ff" stroke="#0000ff" stroke-width="0.8" stroke-linejoin="miter"/>
<path d="M202.04,506.62 L208.29,517.25 L195.79,517.25 Z" fill="#0000ff" stroke="#0000ff" stroke-width="0.8" stroke-linejoin="miter"/>
<path d="M218.55,504.53 L224.8,515.16 L212.3,515.16 Z" fill="#0000ff" stroke="#0000ff" stroke-width="0.8" stroke-linejoin="miter"/>
<path d="M235.06,499.25 L241.31,509.87 L228.81,509.87 Z" fill="#0000ff" stroke="#0000ff" stroke-width="0.8" stroke-linejoin="miter"/>
<path d="M251.57,470.74 L257.82,481.37 L245.32,481.37 Z" fill="#0000ff" stroke="#0000ff" stroke-width="0.8" stroke-linejoin="miter"/>
<path d="M268.09,415.06 L274.34,425.68 L261.84,425.68 Z" fill="#0000ff" stroke="#0000ff" stroke-width="0.8" stroke-linejoin="miter"/>
<path d="M284.6,382.88 L290.85,393.5 L278.35,393.5 Z" fill="#0000ff" stroke="#0000ff" stroke-width="0.8" stroke-linejoin="miter"/>
<path d="M301.11,366.27 L307.36,376.9 L294.86,376.9 Z" fill="#0000ff" stroke="#0000ff" stroke-width="0.8" stroke-linejoin="miter"/>
<path d="M317.63,361.18 L323.88,371.81 L311.38,371.81 Z" fill="#0000ff" stroke="#0000ff" stroke-width="0.8" stroke-linejoin="miter"/>
<path d="M334.14,359.76 L340.39,370.39 L327.89,370.39 Z" fill="#0000ff" stroke="#0000ff" stroke-width="0.8" stroke-linejoin="miter"/>
<path d="M350.65,359.34 L356.9,369.96 L344.4,369.96 Z" fill="#0000ff" stroke="#0000ff" stroke-width="0.8" stroke-linejoin="miter"/>
<path d="M367.17,359.11 L373.42,369.74 L360.92,369.74 Z" fill="#0000ff" stroke="#0000ff" stroke-width="0.8" stroke-linejoin="miter"/>
<path d="M383.68,358.9 L389.93,369.53 L377.43,369.53 Z" fill="#0000ff" stroke="#0000ff" stroke-width="0.8" stroke-linejoin="miter"/>
<path d="M400.19,358.71 L406.44,369.34 L393.94,369.34 Z" fill="#0000ff" stroke="#0000ff" stroke-width="0.8" stroke-linejoin="miter"/>
<path d="M416.7,358.55 L422.95,369.17 L410.45,369.17 Z" fill="#0000ff" stroke="#0000ff" stroke-width="0.8" stroke-linejoin="miter"/>
<path d="M433.22,358.4 L439.47,369.02 L426.97,369.02 Z" fill="#0000ff" stroke="#0000ff" stroke-width="0.8" stroke-linejoin="miter"/>
<path d="M449.73,358.27 L455.98,368.89 L443.48,368.89 Z" fill="#0000ff" stroke="#0000ff" stroke-width="0.8" stroke-linejoin="miter"/>
<path d="M466.24,358.16 L472.49,368.78 L459.99,368.78 Z" fill="#0000ff" stroke="#0000ff" stroke-width="0.8" stroke-linejoin="miter"/>
<path d="M482.76,358.06 L489.01,368.69 L476.51,368.69 Z" fill="#0000ff" stroke="#0000ff" stroke-width="0.8" stroke-linejoin="miter"/>
<path d="M499.27,357.98 L505.52,368.61 L493.02,368.61 Z" fill="#0000ff" stroke="#0000ff" stroke-width="0.8" stroke-linejoin="miter"/>
<path d="M515.78,357.92 L522.03,368.54 L509.53,368.54 Z" fill="#0000ff" stroke="#0000ff" stroke-width="0.8" stroke-linejoin="miter"/>
<path d="M532.3,357.87 L538.55,368.5 L526.05,368.5 Z" fill="#0000ff" stroke="#0000ff" stroke-width="0.8" stroke-linejoin="miter"/>
<path d="M548.81,357.84 L555.06,368.46 L542.56,368.46 Z" fill="#0000ff" stroke="#0000ff" stroke-width="0.8" stroke-linejoin="miter"/>
<path d="M170.66,515 L172.3,514.98 L173.94,514.91 L175.59,514.81 L177.23,514.67 L178.87,514.5 L180.51,514.32 L182.16,514.12 L183.8,513.91 L185.44,513.69 L187.08,513.48 L188.73,513.27 L190.37,513.07 L192.01,512.89 L193.66,512.73 L195.3,512.58 L196.94,512.43 L198.58,512.3 L200.23,512.16 L201.87,512.02 L203.51,511.88 L205.15,511.74 L206.8,511.58 L208.44,511.42 L210.08,511.23 L211.72,511.04 L213.37,510.82 L215.01,510.58 L216.65,510.33 L218.3,510.05 L219.94,509.75 L221.58,509.42 L223.22,509.05 L224.87,508.65 L226.51,508.2 L228.15,507.7 L229.79,507.15 L231.44,506.55 L233.08,505.88 L234.72,505.15 L236.37,504.34 L238.01,503.13 L239.65,501.32 L241.29,498.99 L242.94,496.24 L244.58,493.14 L246.22,489.78 L247.86,486.23 L249.51,482.58 L251.15,478.91 L252.79,475.31 L254.43,471.74 L256.08,467.85 L257.72,463.45 L259.36,458.15 L261.01,451.61 L262.65,444.4 L264.29,437.06 L265.93,430.17 L267.58,424.29 L269.22,419.69 L270.86,415.58 L272.5,411.82 L274.15,408.35 L275.79,405.09 L277.43,402 L279.08,398.99 L280.72,396.01 L282.36,393.12 L284,390.4 L285.65,387.95 L287.29,385.81 L288.93,383.75 L290.57,381.73 L292.22,379.79 L293.86,377.96 L295.5,376.27 L297.15,374.76 L298.79,373.44 L300.43,372.36 L302.07,371.55 L303.72,370.86 L305.36,370.21 L307,369.6 L308.64,369.02 L310.29,368.49 L311.93,368.01 L313.57,367.56 L315.21,367.16 L316.86,366.8 L318.5,366.49 L320.14,366.23 L321.79,366.01 L323.43,365.84 L325.07,365.71 L326.71,365.58 L328.36,365.47 L330,365.36 L331.64,365.26 L333.28,365.16 L334.93,365.08 L336.57,365 L338.21,364.94 L339.86,364.88 L341.5,364.83 L343.14,364.79 L344.78,364.75 L346.43,364.73 L348.07,364.7 L349.71,364.68 L351.35,364.65 L353,364.63 L354.64,364.61 L356.28,364.58 L357.93,364.56 L359.57,364.54 L361.21,364.52 L362.85,364.49 L364.5,364.47 L366.14,364.45 L367.78,364.43 L369.42,364.4 L371.07,364.38 L372.71,364.36 L374.35,364.34 L375.99,364.32 L377.64,364.3 L379.28,364.28 L380.92,364.26 L382.57,364.24 L384.21,364.22 L385.85,364.2 L387.49,364.18 L389.14,364.16 L390.78,364.14 L392.42,364.12 L394.06,364.1 L395.71,364.09 L397.35,364.07 L398.99,364.05 L400.64,364.03 L402.28,364.01 L403.92,364 L405.56,363.98 L407.21,363.96 L408.85,363.95 L410.49,363.93 L412.13,363.91 L413.78,363.9 L415.42,363.88 L417.06,363.86 L418.71,363.85 L420.35,363.83 L421.99,363.82 L423.63,363.8 L425.28,363.79 L426.92,363.77 L428.56,363.76 L430.2,363.74 L431.85,363.73 L433.49,363.72 L435.13,363.7 L436.77,363.69 L438.42,363.68 L440.06,363.66 L441.7,363.65 L443.35,363.64 L444.99,363.62 L446.63,363.61 L448.27,363.6 L449.92,363.59 L451.56,363.57 L453.2,363.56 L454.84,363.55 L456.49,363.54 L458.13,363.53 L459.77,363.52 L461.42,363.51 L463.06,363.5 L464.7,363.48 L466.34,363.47 L467.99,363.46 L469.63,363.45 L471.27,363.44 L472.91,363.43 L474.56,363.42 L476.2,363.42 L477.84,363.41 L479.49,363.4 L481.13,363.39 L482.77,363.38 L484.41,363.37 L486.06,363.36 L487.7,363.35 L489.34,363.35 L490.98,363.34 L492.63,363.33 L494.27,363.32 L495.91,363.31 L497.55,363.31 L499.2,363.3 L500.84,363.29 L502.48,363.29 L504.13,363.28 L505.77,363.27 L507.41,363.27 L509.05,363.26 L510.7,363.25 L512.34,363.25 L513.98,363.24 L515.62,363.24 L517.27,363.23 L518.91,363.22 L520.55,363.22 L522.2,363.21 L523.84,363.21 L525.48,363.2 L527.12,363.2 L528.77,363.2 L530.41,363.19 L532.05,363.19 L533.69,363.18 L535.34,363.18 L536.98,363.17 L538.62,363.17 L540.26,363.17 L541.91,363.16 L543.55,363.16 L545.19,363.16 L546.84,363.15 L548.48,363.15 L550.12,363.15 L551.76,363.15 L553.41,363.14 L555.05,363.14 L556.69,363.14 L558.33,363.14 L559.98,363.13 L561.62,363.13 L563.26,363.13" fill="none" stroke="#0000ff" stroke-width="1.4"/>
<path d="M170.22,509.69 L176.47,520.31 L163.97,520.31 Z" fill="#ffffff" stroke="#0000ff" stroke-width="1.2" stroke-linejoin="miter"/>
<path d="M192.08,507.57 L198.33,518.19 L185.83,518.19 Z" fill="#ffffff" stroke="#0000ff" stroke-width="1.2" stroke-linejoin="miter"/>
<path d="M213.94,505.43 L220.19,516.05 L207.69,516.05 Z" fill="#ffffff" stroke="#0000ff" stroke-width="1.2" stroke-linejoin="miter"/>
<path d="M235.8,499.31 L242.05,509.94 L229.55,509.94 Z" fill="#ffffff" stroke="#0000ff" stroke-width="1.2" stroke-linejoin="miter"/>
<path d="M257.66,458.31 L263.91,468.94 L251.41,468.94 Z" fill="#ffffff" stroke="#0000ff" stroke-width="1.2" stroke-linejoin="miter"/>
<path d="M279.52,392.87 L285.77,403.49 L273.27,403.49 Z" fill="#ffffff" stroke="#0000ff" stroke-width="1.2" stroke-linejoin="miter"/>
<path d="M301.38,366.55 L307.63,377.17 L295.13,377.17 Z" fill="#ffffff" stroke="#0000ff" stroke-width="1.2" stroke-linejoin="miter"/>
<path d="M323.24,360.55 L329.49,371.17 L316.99,371.17 Z" fill="#ffffff" stroke="#0000ff" stroke-width="1.2" stroke-linejoin="miter"/>
<path d="M345.1,359.44 L351.35,370.06 L338.85,370.06 Z" fill="#ffffff" stroke="#0000ff" stroke-width="1.2" stroke-linejoin="miter"/>
<path d="M366.96,359.12 L373.21,369.75 L360.71,369.75 Z" fill="#ffffff" stroke="#0000ff" stroke-width="1.2" stroke-linejoin="miter"/>
<path d="M388.82,358.85 L395.07,369.48 L382.57,369.48 Z" fill="#ffffff" stroke="#0000ff" stroke-width="1.2" stroke-linejoin="miter"/>
<path d="M410.68,358.62 L416.93,369.24 L404.43,369.24 Z" fill="#ffffff" stroke="#0000ff" stroke-width="1.2" stroke-linejoin="miter"/>
<path d="M432.54,358.41 L438.79,369.04 L426.29,369.04 Z" fill="#ffffff" stroke="#0000ff" stroke-width="1.2" stroke-linejoin="miter"/>
<path d="M454.4,358.24 L460.65,368.87 L448.15,368.87 Z" fill="#ffffff" stroke="#0000ff" stroke-width="1.2" stroke-linejoin="miter"/>
<path d="M476.26,358.1 L482.51,368.73 L470.01,368.73 Z" fill="#ffffff" stroke="#0000ff" stroke-width="1.2" stroke-linejoin="miter"/>
<path d="M498.12,357.99 L504.37,368.62 L491.87,368.62 Z" fill="#ffffff" stroke="#0000ff" stroke-width="1.2" stroke-linejoin="miter"/>
<path d="M519.98,357.91 L526.23,368.53 L513.73,368.53 Z" fill="#ffffff" stroke="#0000ff" stroke-width="1.2" stroke-linejoin="miter"/>
<path d="M541.84,357.85 L548.09,368.48 L535.59,368.48 Z" fill="#ffffff" stroke="#0000ff" stroke-width="1.2" stroke-linejoin="miter"/>
<path d="M563.7,357.82 L569.95,368.44 L557.45,368.44 Z" fill="#ffffff" stroke="#0000ff" stroke-width="1.2" stroke-linejoin="miter"/>
<path d="M563.7,515 L564.71,515 L565.71,515 L566.72,515 L567.72,515 L568.73,515 L569.74,515 L570.74,515 L571.75,515 L572.75,515 L573.76,515 L574.77,515 L575.77,515 L576.78,515 L577.79,515 L578.79,515 L579.8,514.92 L580.8,514.76 L581.81,514.52 L582.82,514.2 L583.82,513.83 L584.83,513.41 L585.83,512.94 L586.84,512.45 L587.85,511.95 L588.85,511.44 L589.86,510.93 L590.86,510.43 L591.87,509.96 L592.88,509.53 L593.88,509.14 L594.89,508.81 L595.9,508.55 L596.9,508.34 L597.91,508.16 L598.91,507.99 L599.92,507.84 L600.93,507.7 L601.93,507.58 L602.94,507.46 L603.94,507.34 L604.95,507.23 L605.96,507.11 L606.96,506.99 L607.97,506.87 L608.97,506.73 L609.98,506.58 L610.99,506.42 L611.99,506.24 L613,506.04 L614.01,505.82 L615.01,505.59 L616.02,505.36 L617.02,505.11 L618.03,504.85 L619.04,504.56 L620.04,504.24 L621.05,503.88 L622.05,503.47 L623.06,503.02 L624.07,502.51 L625.07,501.93 L626.08,501.29 L627.08,500.57 L628.09,499.77 L629.1,498.82 L630.1,496.57 L631.11,492.84 L632.12,487.94 L633.12,482.22 L634.13,476.01 L635.13,469.64 L636.14,463.42 L637.15,457.03 L638.15,450.25 L639.16,443.01 L640.16,435.25 L641.17,426.9 L642.18,417.89 L643.18,408.15 L644.19,397.62 L645.19,386.23 L646.2,372.77 L647.21,355.23 L648.21,335.21 L649.22,314.48 L650.23,294.81 L651.23,277.95 L652.24,262.43 L653.24,246.69 L654.25,231.06 L655.26,215.86 L656.26,201.44 L657.27,188.11 L658.27,176.22 L659.28,166.09 L660.29,158.05 L661.29,152.43 L662.3,148.07 L663.3,144.04 L664.31,140.33 L665.32,136.94 L666.32,133.86 L667.33,131.08 L668.34,128.61 L669.34,126.44 L670.35,124.56 L671.35,122.97 L672.36,121.66 L673.37,120.62 L674.37,119.68 L675.38,118.8 L676.38,117.96 L677.39,117.18 L678.4,116.45 L679.4,115.76 L680.41,115.11 L681.41,114.5 L682.42,113.93 L683.43,113.4 L684.43,112.89 L685.44,112.42 L686.45,111.97 L687.45,111.54 L688.46,111.13 L689.46,110.75 L690.47,110.38 L691.48,110.02 L692.48,109.67 L693.49,109.33 L694.49,108.99 L695.5,108.66 L696.51,108.34 L697.51,108.03 L698.52,107.74 L699.52,107.46 L700.53,107.19 L701.54,106.92 L702.54,106.67 L703.55,106.43 L704.56,106.19 L705.56,105.96 L706.57,105.74 L707.57,105.52 L708.58,105.31 L709.59,105.1 L710.59,104.9 L711.6,104.7 L712.6,104.5 L713.61,104.3 L714.62,104.1 L715.62,103.9 L716.63,103.7 L717.63,103.5 L718.64,103.3 L719.65,103.11 L720.65,102.92 L721.66,102.73 L722.67,102.55 L723.67,102.37 L724.68,102.19 L725.68,102.01 L726.69,101.84 L727.7,101.67 L728.7,101.5 L729.71,101.33 L730.71,101.17 L731.72,101 L732.73,100.84 L733.73,100.67 L734.74,100.51 L735.74,100.35 L736.75,100.19 L737.76,100.03 L738.76,99.87 L739.77,99.71 L740.78,99.55 L741.78,99.39 L742.79,99.23 L743.79,99.08 L744.8,98.92 L745.81,98.77 L746.81,98.61 L747.82,98.46 L748.82,98.31 L749.83,98.16 L750.84,98.01 L751.84,97.86 L752.85,97.72 L753.85,97.57 L754.86,97.43 L755.87,97.28 L756.87,97.14 L757.88,97 L758.89,96.86 L759.89,96.73 L760.9,96.59 L761.9,96.45 L762.91,96.32 L763.92,96.18 L764.92,96.04 L765.93,95.91 L766.93,95.77 L767.94,95.64 L768.95,95.5 L769.95,95.37 L770.96,95.24 L771.96,95.11 L772.97,94.98 L773.98,94.86 L774.98,94.74 L775.99,94.62 L777,94.5 L778,94.39 L779.01,94.28 L780.01,94.17 L781.02,94.07 L782.03,93.98 L783.03,93.88 L784.04,93.79 L785.04,93.7 L786.05,93.62 L787.06,93.53 L788.06,93.45 L789.07,93.37 L790.07,93.29 L791.08,93.21 L792.09,93.13 L793.09,93.06 L794.1,92.99 L795.11,92.91 L796.11,92.84 L797.12,92.77 L798.12,92.71 L799.13,92.64 L800.14,92.58 L801.14,92.51 L802.15,92.45 L803.15,92.39 L804.16,92.33" fill="none" stroke="#008080" stroke-width="1.4"/>
<path d="M579.44,508.21 L586.19,514.96 L579.44,521.71 L572.69,514.96 Z" fill="#008080" stroke="#008080" stroke-width="0.8"/>
<path d="M595.81,501.82 L602.56,508.57 L595.81,515.32 L589.06,508.57 Z" fill="#008080" stroke="#008080" stroke-width="0.8"/>
<path d="M612.19,499.45 L618.94,506.2 L612.19,512.95 L605.44,506.2 Z" fill="#008080" stroke="#008080" stroke-width="0.8"/>
<path d="M628.56,492.61 L635.31,499.36 L628.56,506.11 L621.81,499.36 Z" fill="#008080" stroke="#008080" stroke-width="0.8"/>
<path d="M644.93,382.54 L651.68,389.29 L644.93,396.04 L638.18,389.29 Z" fill="#008080" stroke="#008080" stroke-width="0.8"/>
<path d="M661.3,145.62 L668.05,152.37 L661.3,159.12 L654.55,152.37 Z" fill="#008080" stroke="#008080" stroke-width="0.8"/>
<path d="M677.68,110.22 L684.43,116.97 L677.68,123.72 L670.93,116.97 Z" fill="#008080" stroke="#008080" stroke-width="0.8"/>
<path d="M694.05,102.39 L700.8,109.14 L694.05,115.89 L687.3,109.14 Z" fill="#008080" stroke="#008080" stroke-width="0.8"/>
<path d="M710.42,98.18 L717.17,104.93 L710.42,111.68 L703.67,104.93 Z" fill="#008080" stroke="#008080" stroke-width="0.8"/>
<path d="M726.8,95.07 L733.55,101.82 L726.8,108.57 L720.05,101.82 Z" fill="#008080" stroke="#008080" stroke-width="0.8"/>
<path d="M743.17,92.42 L749.92,99.17 L743.17,105.92 L736.42,99.17 Z" fill="#008080" stroke="#008080" stroke-width="0.8"/>
<path d="M759.54,90.02 L766.29,96.77 L759.54,103.52 L752.79,96.77 Z" fill="#008080" stroke="#008080" stroke-width="0.8"/>
<path d="M775.92,87.88 L782.67,94.63 L775.92,101.38 L769.17,94.63 Z" fill="#008080" stroke="#008080" stroke-width="0.8"/>
<path d="M792.29,86.37 L799.04,93.12 L792.29,99.87 L785.54,93.12 Z" fill="#008080" stroke="#008080" stroke-width="0.8"/>
<path d="M563.7,514.57 L564.71,514.51 L565.71,514.41 L566.72,514.28 L567.72,514.11 L568.73,513.92 L569.74,513.69 L570.74,513.44 L571.75,513.17 L572.75,512.87 L573.76,512.56 L574.77,512.24 L575.77,511.9 L576.78,511.55 L577.79,511.19 L578.79,510.83 L579.8,510.47 L580.8,510.12 L581.81,509.76 L582.82,509.41 L583.82,509.07 L584.83,508.74 L585.83,508.43 L586.84,508.12 L587.85,507.8 L588.85,507.48 L589.86,507.16 L590.86,506.84 L591.87,506.51 L592.88,506.18 L593.88,505.84 L594.89,505.5 L595.9,505.16 L596.9,504.81 L597.91,504.46 L598.91,504.11 L599.92,503.75 L600.93,503.39 L601.93,503.02 L602.94,502.65 L603.94,502.27 L604.95,501.9 L605.96,501.51 L606.96,501.12 L607.97,500.74 L608.97,500.38 L609.98,500.05 L610.99,499.75 L611.99,499.45 L613,499.17 L614.01,498.9 L615.01,498.62 L616.02,498.34 L617.02,498.04 L618.03,497.73 L619.04,497.39 L620.04,497.02 L621.05,496.61 L622.05,496.17 L623.06,495.67 L624.07,495.13 L625.07,494.52 L626.08,493.85 L627.08,493.11 L628.09,492.29 L629.1,491.39 L630.1,489.83 L631.11,486.69 L632.12,482.29 L633.12,476.99 L634.13,471.14 L635.13,465.1 L636.14,459.19 L637.15,453.16 L638.15,446.79 L639.16,440.01 L640.16,432.73 L641.17,424.87 L642.18,416.36 L643.18,407.12 L644.19,397.06 L645.19,386.12 L646.2,373.01 L647.21,355.58 L648.21,335.51 L649.22,314.66 L650.23,294.87 L651.23,277.95 L652.24,262.43 L653.24,246.69 L654.25,231.06 L655.26,215.86 L656.26,201.44 L657.27,188.11 L658.27,176.22 L659.28,166.09 L660.29,158.05 L661.29,152.43 L662.3,148.07 L663.3,144.04 L664.31,140.33 L665.32,136.94 L666.32,133.86 L667.33,131.08 L668.34,128.61 L669.34,126.44 L670.35,124.56 L671.35,122.97 L672.36,121.66 L673.37,120.62 L674.37,119.68 L675.38,118.8 L676.38,117.96 L677.39,117.18 L678.4,116.45 L679.4,115.76 L680.41,115.11 L681.41,114.5 L682.42,113.93 L683.43,113.4 L684.43,112.89 L685.44,112.42 L686.45,111.97 L687.45,111.54 L688.46,111.13 L689.46,110.75 L690.47,110.38 L691.48,110.02 L692.48,109.67 L693.49,109.33 L694.49,108.99 L695.5,108.66 L696.51,108.34 L697.51,108.03 L698.52,107.74 L699.52,107.46 L700.53,107.19 L701.54,106.92 L702.54,106.67 L703.55,106.43 L704.56,106.19 L705.56,105.96 L706.57,105.74 L707.57,105.52 L708.58,105.31 L709.59,105.1 L710.59,104.9 L711.6,104.7 L712.6,104.5 L713.61,104.3 L714.62,104.1 L715.62,103.9 L716.63,103.7 L717.63,103.5 L718.64,103.3 L719.65,103.11 L720.65,102.92 L721.66,102.73 L722.67,102.55 L723.67,102.37 L724.68,102.19 L725.68,102.01 L726.69,101.84 L727.7,101.67 L728.7,101.5 L729.71,101.33 L730.71,101.17 L731.72,101 L732.73,100.84 L733.73,100.67 L734.74,100.51 L735.74,100.35 L736.75,100.19 L737.76,100.03 L738.76,99.87 L739.77,99.71 L740.78,99.55 L741.78,99.39 L742.79,99.23 L743.79,99.08 L744.8,98.92 L745.81,98.77 L746.81,98.61 L747.82,98.46 L748.82,98.31 L749.83,98.16 L750.84,98.01 L751.84,97.86 L752.85,97.72 L753.85,97.57 L754.86,97.43 L755.87,97.28 L756.87,97.14 L757.88,97 L758.89,96.86 L759.89,96.73 L760.9,96.59 L761.9,96.45 L762.91,96.32 L763.92,96.18 L764.92,96.04 L765.93,95.91 L766.93,95.77 L767.94,95.64 L768.95,95.5 L769.95,95.37 L770.96,95.24 L771.96,95.11 L772.97,94.98 L773.98,94.86 L774.98,94.74 L775.99,94.62 L777,94.5 L778,94.39 L779.01,94.28 L780.01,94.17 L781.02,94.07 L782.03,93.98 L783.03,93.88 L784.04,93.79 L785.04,93.7 L786.05,93.62 L787.06,93.53 L788.06,93.45 L789.07,93.37 L790.07,93.29 L791.08,93.21 L792.09,93.13 L793.09,93.06 L794.1,92.99 L795.11,92.91 L796.11,92.84 L797.12,92.77 L798.12,92.71 L799.13,92.64 L800.14,92.58 L801.14,92.51 L802.15,92.45 L803.15,92.39 L804.16,92.33" fill="none" stroke="#008080" stroke-width="1.4"/>
<path d="M563.7,507.82 L570.45,514.57 L563.7,521.32 L556.95,514.57 Z" fill="#ffffff" stroke="#008080" stroke-width="1.2"/>
<path d="M585.56,501.76 L592.31,508.51 L585.56,515.26 L578.81,508.51 Z" fill="#ffffff" stroke="#008080" stroke-width="1.2"/>
<path d="M607.42,494.2 L614.17,500.95 L607.42,507.7 L600.67,500.95 Z" fill="#ffffff" stroke="#008080" stroke-width="1.2"/>
<path d="M629.28,484.47 L636.03,491.22 L629.28,497.97 L622.53,491.22 Z" fill="#ffffff" stroke="#008080" stroke-width="1.2"/>
<path d="M651.14,272.59 L657.89,279.34 L651.14,286.09 L644.39,279.34 Z" fill="#ffffff" stroke="#008080" stroke-width="1.2"/>
<path d="M673,114.23 L679.75,120.98 L673,127.73 L666.25,120.98 Z" fill="#ffffff" stroke="#008080" stroke-width="1.2"/>
<path d="M694.86,102.12 L701.61,108.87 L694.86,115.62 L688.11,108.87 Z" fill="#ffffff" stroke="#008080" stroke-width="1.2"/>
<path d="M716.72,96.93 L723.47,103.68 L716.72,110.43 L709.97,103.68 Z" fill="#ffffff" stroke="#008080" stroke-width="1.2"/>
<path d="M738.58,93.15 L745.33,99.9 L738.58,106.65 L731.83,99.9 Z" fill="#ffffff" stroke="#008080" stroke-width="1.2"/>
<path d="M760.44,89.9 L767.19,96.65 L760.44,103.4 L753.69,96.65 Z" fill="#ffffff" stroke="#008080" stroke-width="1.2"/>
<path d="M782.3,87.2 L789.05,93.95 L782.3,100.7 L775.55,93.95 Z" fill="#ffffff" stroke="#008080" stroke-width="1.2"/>
<path d="M804.16,85.58 L810.91,92.33 L804.16,99.08 L797.41,92.33 Z" fill="#ffffff" stroke="#008080" stroke-width="1.2"/>
</g>
<rect x="126.5" y="28.5" width="699.5" height="513.5" fill="none" stroke="#000" stroke-width="3.6"/>
<path d="M126.5,515 H138 M126.5,460.95 H138 M126.5,406.9 H138 M126.5,352.85 H138 M126.5,298.8 H138 M126.5,244.75 H138 M126.5,190.7 H138 M126.5,136.65 H138 M126.5,82.6 H138 M126.5,28.55 H138 M126.5,487.98 H133 M126.5,433.92 H133 M126.5,379.88 H133 M126.5,325.82 H133 M126.5,271.77 H133 M126.5,217.72 H133 M126.5,163.67 H133 M126.5,109.62 H133 M126.5,55.57 H133 M170.22,542 V530.5 M257.66,542 V530.5 M345.1,542 V530.5 M432.54,542 V530.5 M519.98,542 V530.5 M607.42,542 V530.5 M694.86,542 V530.5 M782.3,542 V530.5 M213.94,542 V535.5 M301.38,542 V535.5 M388.82,542 V535.5 M476.26,542 V535.5 M563.7,542 V535.5 M651.14,542 V535.5 M738.58,542 V535.5" stroke="#000" stroke-width="3" fill="none"/>
<g transform="translate(114.34,522.16) scale(0.9811,1.0526)"><text font-family='"Liberation Sans", sans-serif' font-size="28" x="-54.5 -38.92 -31.14 -15.57" style="white-space:pre">0.00</text></g>
<g transform="translate(114.34,468.11) scale(0.9811,1.0526)"><text font-family='"Liberation Sans", sans-serif' font-size="28" x="-54.5 -38.92 -31.14 -15.57" style="white-space:pre">0.05</text></g>
<g transform="translate(114.34,414.06) scale(0.9811,1.0526)"><text font-family='"Liberation Sans", sans-serif' font-size="28" x="-54.5 -38.92 -31.14 -15.57" style="white-space:pre">0. 0</text><path d="M-20.7,0 L-23.16,0 L-23.16,-15.68 L-24.06,-14.9 L-25.49,-14.06 L-26.97,-13.36 L-26.97,-15.74 L-24.31,-17 L-22.6,-18.7 L-21.57,-20.05 L-20.7,-20.05Z" fill="#000"/></g>
<g transform="translate(114.34,360.01) scale(0.9811,1.0526)"><text font-family='"Liberation Sans", sans-serif' font-size="28" x="-54.5 -38.92 -31.14 -15.57" style="white-space:pre">0. 5</text><path d="M-20.7,0 L-23.16,0 L-23.16,-15.68 L-24.06,-14.9 L-25.49,-14.06 L-26.97,-13.36 L-26.97,-15.74 L-24.31,-17 L-22.6,-18.7 L-21.57,-20.05 L-20.7,-20.05Z" fill="#000"/></g>
<g transform="translate(114.34,305.96) scale(0.9811,1.0526)"><text font-family='"Liberation Sans", sans-serif' font-size="28" x="-54.5 -38.92 -31.14 -15.57" style="white-space:pre">0.20</text></g>
<g transform="translate(114.34,251.91) scale(0.9811,1.0526)"><text font-family='"Liberation Sans", sans-serif' font-size="28" x="-54.5 -38.92 -31.14 -15.57" style="white-space:pre">0.25</text></g>
<g transform="translate(114.34,197.86) scale(0.9811,1.0526)"><text font-family='"Liberation Sans", sans-serif' font-size="28" x="-54.5 -38.92 -31.14 -15.57" style="white-space:pre">0.30</text></g>
<g transform="translate(114.34,143.81) scale(0.9811,1.0526)"><text font-family='"Liberation Sans", sans-serif' font-size="28" x="-54.5 -38.92 -31.14 -15.57" style="white-space:pre">0.35</text></g>
<g transform="translate(114.34,89.76) scale(0.9811,1.0526)"><text font-family='"Liberation Sans", sans-serif' font-size="28" x="-54.5 -38.92 -31.14 -15.57" style="white-space:pre">0.40</text></g>
<g id="t_ya" transform="translate(114.34,35.71) scale(0.9811,1.0526)"><text font-family='"Liberation Sans", sans-serif' font-size="28" x="-54.5 -38.92 -31.14 -15.57" style="white-space:pre">0.45</text></g>
<g id="t_xa" transform="translate(169.04,575.32) scale(0.9812,1.0139)"><text font-family='"Liberation Sans", sans-serif' font-size="28" x="-20.23 -10.91 4.66" style="white-space:pre">- 4</text><path d="M-0.47,0 L-2.93,0 L-2.93,-15.68 L-3.83,-14.9 L-5.25,-14.06 L-6.74,-13.36 L-6.74,-15.74 L-4.08,-17 L-2.37,-18.7 L-1.33,-20.05 L-0.47,-20.05Z" fill="#000"/></g>
<g transform="translate(256.48,575.32) scale(0.9812,1.0139)"><text font-family='"Liberation Sans", sans-serif' font-size="28" x="-20.23 -10.91 4.66" style="white-space:pre">- 2</text><path d="M-0.47,0 L-2.93,0 L-2.93,-15.68 L-3.83,-14.9 L-5.25,-14.06 L-6.74,-13.36 L-6.74,-15.74 L-4.08,-17 L-2.37,-18.7 L-1.33,-20.05 L-0.47,-20.05Z" fill="#000"/></g>
<g transform="translate(343.92,575.32) scale(0.9812,1.0139)"><text font-family='"Liberation Sans", sans-serif' font-size="28" x="-20.23 -10.91 4.66" style="white-space:pre">- 0</text><path d="M-0.47,0 L-2.93,0 L-2.93,-15.68 L-3.83,-14.9 L-5.25,-14.06 L-6.74,-13.36 L-6.74,-15.74 L-4.08,-17 L-2.37,-18.7 L-1.33,-20.05 L-0.47,-20.05Z" fill="#000"/></g>
<g transform="translate(431.36,575.32) scale(0.9812,1.0139)"><text font-family='"Liberation Sans", sans-serif' font-size="28" x="-12.45 -3.12" style="white-space:pre">-8</text></g>
<g transform="translate(518.8,575.32) scale(0.9812,1.0139)"><text font-family='"Liberation Sans", sans-serif' font-size="28" x="-12.45 -3.12" style="white-space:pre">-6</text></g>
<g transform="translate(606.24,575.32) scale(0.9812,1.0139)"><text font-family='"Liberation Sans", sans-serif' font-size="28" x="-12.45 -3.12" style="white-space:pre">-4</text></g>
<g transform="translate(693.68,575.32) scale(0.9812,1.0139)"><text font-family='"Liberation Sans", sans-serif' font-size="28" x="-12.45 -3.12" style="white-space:pre">-2</text></g>
<g transform="translate(781.12,575.32) scale(0.9812,1.0139)"><text font-family='"Liberation Sans", sans-serif' font-size="28" x="-7.79" style="white-space:pre">0</text></g>
<text id="t_a" transform="translate(1.03,19.38) scale(0.9400,1.0000)" font-family='"Liberation Sans", sans-serif' font-size="28">(a)</text>
<text id="t_b" transform="translate(0.87,679.41) scale(0.9435,0.9924)" font-family='"Liberation Sans", sans-serif' font-size="28">(b)</text>
<text id="t_gate" transform="translate(360.58,618.42) scale(1.0209,0.9914)" font-family='"Liberation Serif", serif' font-size="41">Gate Bias (V)</text>
<text id="t_cap" transform="translate(41.81,481.05) rotate(-90) scale(0.9957,0.9466)" font-family='"Liberation Serif", serif' font-size="42">Capacitance (μF/cm<tspan font-size="26" dy="-23">2</tspan><tspan dy="23">)</tspan></text>
<text id="t_dist" transform="translate(228.19,1268.56) scale(1.0096,0.9526)" font-family='"Liberation Serif", serif' font-size="41">Distance from the gate (nm)</text>
<text id="t_carr" transform="translate(42.32,1205.15) rotate(-90) scale(1.0081,0.9948)" font-family='"Liberation Serif", serif' font-size="41">Carrier Concentration (cm<tspan font-size="26" dy="-23">-3</tspan><tspan dy="23">)</tspan></text>
<line x1="123" y1="1061.3" x2="194.5" y2="1061.3" stroke="#000000" stroke-width="5.5"/>
<rect x="147.4" y="1050.3" width="22" height="22" fill="#ffffff" stroke="#000000" stroke-width="2.2"/>
<text id="t_lb" transform="translate(199.45,1070.39) scale(1.0046,0.9772)" font-family='"Liberation Serif", serif' font-size="29">Sample A</text>
<line x1="123" y1="1097.4" x2="194.5" y2="1097.4" stroke="#ff0000" stroke-width="4"/>
<circle cx="158.4" cy="1097.4" r="10" fill="#ff0000" stroke="#ff0000" stroke-width="0"/>
<text transform="translate(199.45,1106.49) scale(1.0046,0.9772)" font-family='"Liberation Serif", serif' font-size="29">Sample B</text>
<line x1="123" y1="1133.5" x2="194.5" y2="1133.5" stroke="#0000ff" stroke-width="4"/>
<path d="M158.4,1122.88 L170.9,1144.12 L145.9,1144.12 Z" fill="#0000ff" stroke="#0000ff" stroke-width="0" stroke-linejoin="miter"/>
<text transform="translate(199.45,1142.59) scale(1.0046,0.9772)" font-family='"Liberation Serif", serif' font-size="29">Sample C</text>
<line x1="123" y1="1169.6" x2="194.5" y2="1169.6" stroke="#008080" stroke-width="4"/>
<path d="M158.4,1180.22 L170.9,1158.97 L145.9,1158.97 Z" fill="#008080" stroke="#008080" stroke-width="0"/>
<text transform="translate(199.45,1178.69) scale(1.0046,0.9772)" font-family='"Liberation Serif", serif' font-size="29">HEMT</text>
<text id="t_p1" transform="translate(684.53,774.46) scale(1.0006,1.0372)" font-family='"Liberation Serif", serif' font-size="33" text-anchor="middle">L<tspan font-size="20" dy="13">SG</tspan><tspan dy="-13"> = 1 μm</tspan></text>
<text id="t_p2" transform="translate(685.42,827.8) scale(0.9948,0.9983)" font-family='"Liberation Serif", serif' font-size="33" text-anchor="middle">L<tspan font-size="20" dy="13">G</tspan><tspan dy="-13"> = 4.5 μm</tspan></text>
<text id="t_p3" transform="translate(685.07,880.62) scale(0.9973,0.9953)" font-family='"Liberation Serif", serif' font-size="33" text-anchor="middle">L<tspan font-size="20" dy="13">GD</tspan><tspan dy="-13"> = 15.5 μm</tspan></text>
<text id="t_p4" transform="translate(686.52,936.57) scale(0.9784,0.9893)" font-family='"Liberation Serif", serif' font-size="33" text-anchor="middle">W<tspan font-size="20" dy="13">G</tspan><tspan dy="-13"> = 100 μm</tspan></text>
<text id="t_p5" transform="translate(685.7,986.15) scale(1.0016,0.9883)" font-family='"Liberation Serif", serif' font-size="33" text-anchor="middle">Freq. = 1 MHz</text>
<text id="t_hb" transform="translate(161.95,742.78) scale(0.9802,1.0201)" font-family='"Liberation Serif", serif' font-size="28" font-weight="bold" fill="#008080">HEMT</text>
<text id="t_sbB" transform="translate(283.59,754.31) scale(1.0196,0.9626)" font-family='"Liberation Serif", serif' font-size="28" font-weight="bold" fill="#ff0000">Sample B</text>
<text id="t_sbA" transform="translate(409.27,777.93) scale(1.0186,0.9895)" font-family='"Liberation Serif", serif' font-size="28" font-weight="bold" fill="#000000">Sample A</text>
<text id="t_sbC" transform="translate(488.94,719.09) scale(1.0255,0.9813)" font-family='"Liberation Serif", serif' font-size="28" font-weight="bold" fill="#0000ff">Sample C</text>
<g clip-path="url(#cb)">
<path d="M394.38,790.15 L394.52,791.71 L394.65,793.28 L394.79,794.85 L394.91,796.43 L395.04,798.01 L395.16,799.58 L395.27,801.17 L395.39,802.75 L395.5,804.34 L395.6,805.92 L395.7,807.51 L395.8,809.11 L395.9,810.7 L396,812.3 L396.09,813.9 L396.18,815.5 L396.26,817.1 L396.35,818.7 L396.43,820.31 L396.51,821.92 L396.59,823.53 L396.67,825.14 L396.74,826.75 L396.82,828.36 L396.89,829.98 L396.96,831.6 L397.03,833.22 L397.1,834.84 L397.17,836.46 L397.23,838.08 L397.3,839.71 L397.37,841.33 L397.43,842.96 L397.5,844.59 L397.57,846.22 L397.63,847.85 L397.7,849.48 L397.77,851.12 L397.83,852.75 L397.9,854.39 L397.97,856.02 L398.04,857.66 L398.11,859.3 L398.18,860.93 L398.25,862.57 L398.33,864.21 L398.4,865.85 L398.48,867.5 L398.56,869.14 L398.64,870.78 L398.72,872.42 L398.81,874.07 L398.89,875.71 L398.98,877.36 L399.08,879 L399.17,880.65 L399.27,882.29 L399.37,883.94 L399.47,885.59 L399.58,887.23 L399.69,888.88 L399.8,890.52 L399.92,892.17 L400.04,893.82 L400.17,895.47 L400.3,897.11 L400.43,898.76 L400.56,900.4 L400.71,902.05 L400.85,903.7 L401,905.34 L401.16,906.99 L401.32,908.63 L401.48,910.28 L401.65,911.92 L401.83,913.57 L402.01,915.21 L402.19,916.85 L402.39,918.5 L402.58,920.14 L402.79,921.78 L403,923.42 L403.21,925.06 L403.44,926.7 L403.66,928.33 L403.9,929.97 L404.14,931.61 L404.39,933.24 L404.64,934.88 L404.91,936.51 L405.18,938.14 L405.45,939.77 L405.74,941.39 L406.03,943.02 L406.33,944.64 L406.64,946.26 L406.96,947.88 L407.28,949.49 L407.61,951.1 L407.95,952.71 L408.3,954.32 L408.66,955.92 L409.03,957.52 L409.41,959.12 L409.79,960.71 L410.19,962.3 L410.59,963.89 L411.01,965.47 L411.43,967.05 L411.86,968.62 L412.31,970.19 L412.76,971.75 L413.22,973.31 L413.7,974.87 L414.18,976.42 L414.68,977.96 L415.19,979.5 L415.7,981.03 L416.23,982.56 L416.77,984.09 L417.32,985.6 L417.89,987.12 L418.46,988.62 L419.05,990.12 L419.65,991.61 L420.26,993.1 L420.88,994.58 L421.51,996.05 L422.16,997.52 L422.82,998.98 L423.49,1000.43 L424.18,1001.88 L424.88,1003.32 L425.59,1004.75 L426.32,1006.17 L427.05,1007.59 L427.81,1008.99 L428.57,1010.39 L429.35,1011.78 L430.15,1013.17 L430.95,1014.54 L431.78,1015.91 L432.61,1017.26 L433.46,1018.61 L434.32,1019.95 L435.2,1021.28 L436.09,1022.61 L436.99,1023.92 L437.91,1025.23 L438.83,1026.53 L439.78,1027.81 L440.73,1029.09 L441.69,1030.36 L442.67,1031.63 L443.66,1032.88 L444.67,1034.12 L445.68,1035.36 L446.71,1036.59 L447.75,1037.8 L448.8,1039.01 L449.86,1040.21 L450.93,1041.4 L452.02,1042.58 L453.11,1043.76 L454.22,1044.92 L455.34,1046.07 L456.46,1047.22 L457.6,1048.35 L458.75,1049.48 L459.91,1050.59 L461.08,1051.7 L462.26,1052.8 L463.45,1053.89 L464.66,1054.97 L465.87,1056.04 L467.09,1057.1 L468.32,1058.15 L469.56,1059.19 L470.8,1060.22 L472.06,1061.24 L473.33,1062.25 L474.6,1063.25 L475.89,1064.25 L477.18,1065.23 L478.48,1066.21 L479.79,1067.17 L481.11,1068.13 L482.43,1069.08 L483.76,1070.02 L485.1,1070.95 L486.44,1071.87 L487.79,1072.79 L489.15,1073.69 L490.52,1074.59 L491.89,1075.48 L493.26,1076.36 L494.64,1077.24 L496.03,1078.1 L497.42,1078.96 L498.82,1079.81 L500.22,1080.66 L501.63,1081.5 L503.04,1082.33 L504.46,1083.15 L505.88,1083.96 L507.3,1084.77 L508.73,1085.58 L510.16,1086.37 L511.59,1087.16 L513.02,1087.94 L514.46,1088.72 L515.9,1089.49 L517.35,1090.25 L518.79,1091.01 L520.24,1091.76 L521.69,1092.51 L523.15,1093.25 L524.6,1093.98 L526.06,1094.71 L527.52,1095.43 L528.98,1096.15 L530.45,1096.86 L531.91,1097.57 L533.38,1098.26 L534.85,1098.96 L536.33,1099.65 L537.8,1100.33 L539.28,1101.01 L540.76,1101.68 L542.24,1102.34 L543.73,1103 L545.21,1103.66 L546.7,1104.31 L548.19,1104.96 L549.68,1105.6 L551.17,1106.23 L552.67,1106.86 L554.17,1107.49 L555.67,1108.11 L557.17,1108.72 L558.67,1109.33 L560.18,1109.94 L561.68,1110.54 L563.19,1111.13 L564.7,1111.72 L566.22,1112.31 L567.73,1112.89 L569.25,1113.47 L570.76,1114.04 L572.28,1114.61 L573.8,1115.17 L575.32,1115.73 L576.85,1116.29 L578.37,1116.84 L579.9,1117.38 L581.43,1117.93 L582.96,1118.46 L584.49,1119 L586.03,1119.53 L587.56,1120.05 L589.1,1120.58 L590.63,1121.09 L592.17,1121.61 L593.71,1122.12 L595.26,1122.63 L596.8,1123.13 L598.34,1123.63 L599.89,1124.12 L601.44,1124.61 L602.99,1125.1 L604.54,1125.59 L606.09,1126.07 L607.64,1126.55 L609.19,1127.02 L610.75,1127.49 L612.3,1127.96 L613.86,1128.42 L615.42,1128.89 L616.98,1129.34 L618.54,1129.8 L620.1,1130.25 L621.66,1130.7 L623.22,1131.15 L624.79,1131.59 L626.35,1132.03 L627.92,1132.47 L629.49,1132.9 L631.06,1133.33 L632.63,1133.76 L634.2,1134.19 L635.77,1134.61 L637.34,1135.03 L638.91,1135.45 L640.48,1135.87 L642.06,1136.28 L643.63,1136.7 L645.21,1137.1 L646.79,1137.51 L648.36,1137.92 L649.94,1138.32 L651.52,1138.72 L653.1,1139.12 L654.68,1139.51 L656.26,1139.91 L657.84,1140.3 L659.42,1140.69 L661,1141.08 L662.59,1141.47 L664.17,1141.85 L665.75,1142.23 L667.34,1142.61 L668.92,1142.99 L670.51,1143.37 L672.09,1143.75 L673.68,1144.12 L675.26,1144.5 L676.85,1144.87 L678.44,1145.24 L680.02,1145.61 L681.61,1145.98 L683.2,1146.34 L684.79,1146.71 L686.37,1147.07 L687.96,1147.44 L689.55,1147.8 L691.14,1148.16 L692.73,1148.52 L694.32,1148.88 L695.91,1149.24 L697.5,1149.6 L699.09,1149.95 L700.68,1150.31 L702.26,1150.67 L703.85,1151.02 L705.44,1151.37 L707.03,1151.73 L708.62,1152.08 L710.21,1152.43 L711.8,1152.79 L713.39,1153.14 L714.98,1153.49 L716.57,1153.84 L718.16,1154.19 L719.74,1154.54 L721.33,1154.89 L722.92,1155.24 L724.51,1155.59 L726.1,1155.94 L727.68,1156.3 L729.27,1156.65 L730.86,1157 L732.44,1157.35 L734.03,1157.7 L735.61,1158.05 L737.2,1158.4 L738.78,1158.75 L740.37,1159.11 L741.95,1159.46 L743.54,1159.81 L745.12,1160.17 L746.7,1160.52 L748.28,1160.88 L749.86,1161.23 L751.44,1161.59 L753.02,1161.94 L754.6,1162.3 L756.18,1162.66 L757.76,1163.02 L759.34,1163.38 L760.91,1163.74 L762.49,1164.11 L764.06,1164.47 L765.64,1164.83 L767.21,1165.2 L768.79,1165.57 L770.36,1165.94 L771.93,1166.31 L773.5,1166.68 L775.07,1167.05 L776.64,1167.42 L778.2,1167.8 L779.77,1168.18 L781.34,1168.55 L782.9,1168.93 L784.47,1169.32 L786.03,1169.7 L787.59,1170.09 L789.15,1170.47 L790.71,1170.86 L792.27,1171.25 L793.83,1171.65 L795.38,1172.04 L796.94,1172.44 L798.49,1172.84 L800.04,1173.24 L801.6,1173.64 L803.15,1174.05 L804.69,1174.45 L806.24,1174.86" fill="none" stroke="#000000" stroke-width="6"/>
<rect x="383" y="785.5" width="23" height="23" fill="#ffffff" stroke="#000000" stroke-width="2.2"/>
<rect x="383.3" y="794.5" width="23" height="23" fill="#ffffff" stroke="#000000" stroke-width="2.2"/>
<rect x="383.7" y="804.5" width="23" height="23" fill="#ffffff" stroke="#000000" stroke-width="2.2"/>
<rect x="384.1" y="815.5" width="23" height="23" fill="#ffffff" stroke="#000000" stroke-width="2.2"/>
<rect x="384.7" y="827.5" width="23" height="23" fill="#ffffff" stroke="#000000" stroke-width="2.2"/>
<rect x="385.4" y="841" width="23" height="23" fill="#ffffff" stroke="#000000" stroke-width="2.2"/>
<rect x="388" y="865.5" width="23" height="23" fill="#ffffff" stroke="#000000" stroke-width="2.2"/>
<rect x="392.8" y="914.2" width="23" height="23" fill="#ffffff" stroke="#000000" stroke-width="2.2"/>
<rect x="417" y="1000.8" width="23" height="23" fill="#ffffff" stroke="#000000" stroke-width="2.2"/>
<rect x="653.2" y="1132.9" width="23" height="23" fill="#ffffff" stroke="#000000" stroke-width="2.2"/>
<path d="M394.05,790.06 L394.42,791.68 L394.78,793.3 L395.13,794.92 L395.47,796.54 L395.79,798.15 L396.1,799.77 L396.4,801.38 L396.69,803 L396.97,804.61 L397.23,806.23 L397.49,807.84 L397.73,809.45 L397.97,811.07 L398.19,812.68 L398.41,814.29 L398.62,815.9 L398.82,817.51 L399.01,819.12 L399.19,820.73 L399.36,822.35 L399.53,823.96 L399.68,825.57 L399.84,827.18 L399.98,828.79 L400.12,830.4 L400.25,832.01 L400.37,833.62 L400.49,835.23 L400.61,836.84 L400.72,838.45 L400.82,840.06 L400.92,841.67 L401.02,843.29 L401.11,844.9 L401.19,846.51 L401.28,848.12 L401.36,849.73 L401.44,851.35 L401.51,852.96 L401.58,854.57 L401.65,856.19 L401.72,857.8 L401.79,859.42 L401.86,861.03 L401.92,862.65 L401.99,864.27 L402.05,865.89 L402.12,867.5 L402.18,869.12 L402.25,870.74 L402.31,872.36 L402.38,873.99 L402.45,875.61 L402.52,877.23 L402.59,878.85 L402.66,880.48 L402.74,882.11 L402.82,883.73 L402.9,885.36 L402.99,886.99 L403.08,888.62 L403.17,890.25 L403.27,891.88 L403.37,893.51 L403.48,895.15 L403.59,896.78 L403.71,898.42 L403.83,900.06 L403.96,901.7 L404.09,903.34 L404.23,904.98 L404.38,906.62 L404.53,908.27 L404.69,909.91 L404.86,911.55 L405.03,913.2 L405.21,914.85 L405.39,916.49 L405.59,918.14 L405.78,919.78 L405.99,921.43 L406.2,923.08 L406.42,924.72 L406.65,926.37 L406.88,928.01 L407.12,929.65 L407.36,931.3 L407.62,932.94 L407.88,934.58 L408.15,936.22 L408.42,937.86 L408.71,939.5 L409,941.13 L409.3,942.77 L409.6,944.4 L409.92,946.03 L410.24,947.66 L410.57,949.29 L410.91,950.91 L411.25,952.53 L411.6,954.15 L411.97,955.77 L412.34,957.38 L412.71,958.99 L413.1,960.6 L413.49,962.21 L413.9,963.81 L414.31,965.41 L414.73,967.01 L415.16,968.6 L415.6,970.19 L416.04,971.77 L416.5,973.35 L416.96,974.93 L417.43,976.5 L417.92,978.07 L418.41,979.64 L418.91,981.2 L419.42,982.75 L419.93,984.3 L420.46,985.85 L421,987.39 L421.55,988.93 L422.1,990.46 L422.67,991.98 L423.24,993.5 L423.83,995.02 L424.43,996.53 L425.03,998.03 L425.65,999.53 L426.27,1001.02 L426.91,1002.51 L427.55,1003.99 L428.21,1005.46 L428.87,1006.93 L429.55,1008.39 L430.23,1009.84 L430.93,1011.29 L431.64,1012.73 L432.36,1014.16 L433.08,1015.59 L433.82,1017 L434.57,1018.41 L435.34,1019.82 L436.11,1021.21 L436.89,1022.6 L437.68,1023.98 L438.49,1025.35 L439.31,1026.72 L440.13,1028.08 L440.97,1029.42 L441.82,1030.76 L442.68,1032.09 L443.56,1033.42 L444.44,1034.73 L445.34,1036.03 L446.25,1037.33 L447.17,1038.61 L448.1,1039.89 L449.04,1041.16 L450,1042.42 L450.96,1043.67 L451.94,1044.9 L452.94,1046.13 L453.94,1047.35 L454.96,1048.56 L455.98,1049.76 L457.03,1050.95 L458.08,1052.13 L459.15,1053.29 L460.22,1054.45 L461.32,1055.6 L462.42,1056.73 L463.54,1057.86 L464.67,1058.97 L465.81,1060.07 L466.97,1061.16 L468.13,1062.24 L469.32,1063.31 L470.51,1064.36 L471.72,1065.41 L472.94,1066.44 L474.17,1067.46 L475.42,1068.47 L476.68,1069.47 L477.95,1070.46 L479.23,1071.43 L480.52,1072.4 L481.83,1073.36 L483.14,1074.3 L484.47,1075.24 L485.8,1076.16 L487.15,1077.08 L488.5,1077.98 L489.87,1078.88 L491.24,1079.77 L492.63,1080.64 L494.02,1081.51 L495.42,1082.37 L496.83,1083.22 L498.25,1084.06 L499.67,1084.9 L501.11,1085.72 L502.55,1086.54 L504,1087.34 L505.45,1088.14 L506.91,1088.93 L508.38,1089.72 L509.86,1090.49 L511.34,1091.26 L512.83,1092.02 L514.32,1092.78 L515.82,1093.52 L517.32,1094.26 L518.83,1095 L520.34,1095.72 L521.86,1096.44 L523.38,1097.16 L524.9,1097.86 L526.43,1098.57 L527.96,1099.26 L529.5,1099.95 L531.04,1100.63 L532.58,1101.31 L534.12,1101.99 L535.67,1102.65 L537.21,1103.32 L538.76,1103.97 L540.31,1104.63 L541.87,1105.27 L543.42,1105.92 L544.97,1106.56 L546.53,1107.19 L548.08,1107.82 L549.64,1108.45 L551.19,1109.07 L552.75,1109.69 L554.3,1110.3 L555.85,1110.92 L557.4,1111.53 L558.95,1112.13 L560.5,1112.73 L562.05,1113.33 L563.59,1113.93 L565.14,1114.52 L566.68,1115.12 L568.22,1115.7 L569.76,1116.29 L571.3,1116.87 L572.83,1117.45 L574.37,1118.03 L575.9,1118.6 L577.43,1119.17 L578.96,1119.74 L580.49,1120.31 L582.02,1120.87 L583.55,1121.43 L585.07,1121.99 L586.6,1122.54 L588.13,1123.1 L589.65,1123.65 L591.17,1124.19 L592.7,1124.73 L594.22,1125.28 L595.74,1125.81 L597.26,1126.35 L598.79,1126.88 L600.31,1127.41 L601.83,1127.94 L603.35,1128.46 L604.87,1128.98 L606.39,1129.5 L607.92,1130.01 L609.44,1130.53 L610.96,1131.04 L612.48,1131.54 L614,1132.05 L615.53,1132.55 L617.05,1133.05 L618.58,1133.55 L620.1,1134.04 L621.63,1134.53 L623.15,1135.02 L624.68,1135.5 L626.21,1135.99 L627.74,1136.47 L629.27,1136.94 L630.8,1137.42 L632.33,1137.89 L633.86,1138.36 L635.4,1138.82 L636.93,1139.29 L638.47,1139.75 L640.01,1140.2 L641.55,1140.66 L643.1,1141.11 L644.64,1141.56 L646.18,1142.01 L647.73,1142.45 L649.28,1142.89 L650.83,1143.33 L652.38,1143.77 L653.94,1144.2 L655.49,1144.64 L657.05,1145.07 L658.6,1145.49 L660.16,1145.92 L661.72,1146.34 L663.28,1146.76 L664.84,1147.17 L666.41,1147.59 L667.97,1148 L669.54,1148.41 L671.11,1148.82 L672.68,1149.22 L674.25,1149.63 L675.82,1150.03 L677.39,1150.43 L678.96,1150.82 L680.54,1151.22 L682.11,1151.61 L683.69,1152 L685.26,1152.39 L686.84,1152.78 L688.42,1153.16 L690,1153.54 L691.58,1153.92 L693.17,1154.3 L694.75,1154.68 L696.33,1155.05 L697.92,1155.43 L699.5,1155.8 L701.09,1156.17 L702.68,1156.53 L704.26,1156.9 L705.85,1157.26 L707.44,1157.62 L709.03,1157.98 L710.62,1158.34 L712.21,1158.7 L713.81,1159.06 L715.4,1159.41 L716.99,1159.76 L718.58,1160.11 L720.18,1160.46 L721.77,1160.81 L723.37,1161.16 L724.96,1161.5 L726.56,1161.84 L728.16,1162.19 L729.75,1162.53 L731.35,1162.87 L732.95,1163.2 L734.55,1163.54 L736.15,1163.88 L737.74,1164.21 L739.34,1164.54 L740.94,1164.87 L742.54,1165.2 L744.14,1165.53 L745.74,1165.86 L747.34,1166.19 L748.94,1166.51 L750.54,1166.84 L752.14,1167.16 L753.74,1167.48 L755.34,1167.81 L756.94,1168.13 L758.54,1168.45 L760.15,1168.77 L761.75,1169.08 L763.35,1169.4 L764.95,1169.72 L766.55,1170.03 L768.15,1170.35 L769.75,1170.66 L771.35,1170.97 L772.95,1171.29 L774.55,1171.6 L776.15,1171.91 L777.75,1172.22 L779.34,1172.53 L780.94,1172.84 L782.54,1173.15 L784.14,1173.46 L785.74,1173.76 L787.33,1174.07 L788.93,1174.38 L790.53,1174.68 L792.12,1174.99 L793.72,1175.29 L795.31,1175.6 L796.91,1175.9 L798.5,1176.21 L800.1,1176.51 L801.69,1176.81 L803.28,1177.12 L804.87,1177.42 L806.47,1177.72" fill="none" stroke="#ff0000" stroke-width="4"/>
<circle cx="394.5" cy="792" r="10.5" fill="#ff0000" stroke="#ff0000" stroke-width="0"/>
<circle cx="395" cy="800" r="10.5" fill="#ff0000" stroke="#ff0000" stroke-width="0"/>
<circle cx="396" cy="808" r="10.5" fill="#ff0000" stroke="#ff0000" stroke-width="0"/>
<circle cx="397" cy="817" r="10.5" fill="#ff0000" stroke="#ff0000" stroke-width="0"/>
<circle cx="398" cy="826" r="10.5" fill="#ff0000" stroke="#ff0000" stroke-width="0"/>
<circle cx="399.5" cy="836" r="10.5" fill="#ff0000" stroke="#ff0000" stroke-width="0"/>
<circle cx="401" cy="850" r="10.5" fill="#ff0000" stroke="#ff0000" stroke-width="0"/>
<circle cx="402.2" cy="865.4" r="10.5" fill="#ff0000" stroke="#ff0000" stroke-width="0"/>
<circle cx="404.5" cy="900.5" r="10.5" fill="#ff0000" stroke="#ff0000" stroke-width="0"/>
<circle cx="410.4" cy="947.4" r="10.5" fill="#ff0000" stroke="#ff0000" stroke-width="0"/>
<circle cx="438.8" cy="1029" r="10.5" fill="#ff0000" stroke="#ff0000" stroke-width="0"/>
<circle cx="640.4" cy="1141.3" r="10.5" fill="#ff0000" stroke="#ff0000" stroke-width="0"/>
<path d="M531.54,747.99 L531.5,749.42 L531.46,750.84 L531.43,752.26 L531.39,753.68 L531.36,755.09 L531.33,756.51 L531.29,757.92 L531.26,759.33 L531.24,760.74 L531.21,762.14 L531.19,763.55 L531.16,764.95 L531.14,766.35 L531.12,767.74 L531.1,769.14 L531.08,770.53 L531.07,771.93 L531.05,773.32 L531.04,774.71 L531.02,776.09 L531.01,777.48 L531,778.87 L531,780.25 L530.99,781.63 L530.99,783.01 L530.98,784.39 L530.98,785.77 L530.98,787.15 L530.98,788.52 L530.98,789.9 L530.98,791.27 L530.99,792.64 L530.99,794.01 L531,795.39 L531.01,796.75 L531.02,798.12 L531.03,799.49 L531.04,800.86 L531.06,802.23 L531.07,803.59 L531.09,804.96 L531.11,806.32 L531.12,807.69 L531.14,809.05 L531.17,810.41 L531.19,811.78 L531.21,813.14 L531.24,814.5 L531.26,815.86 L531.29,817.23 L531.32,818.59 L531.35,819.95 L531.38,821.31 L531.42,822.67 L531.45,824.03 L531.48,825.39 L531.52,826.76 L531.56,828.12 L531.6,829.48 L531.64,830.84 L531.68,832.2 L531.72,833.57 L531.76,834.93 L531.81,836.29 L531.86,837.66 L531.9,839.02 L531.95,840.39 L532,841.75 L532.05,843.12 L532.1,844.49 L532.15,845.85 L532.21,847.22 L532.26,848.59 L532.32,849.96 L532.38,851.33 L532.44,852.7 L532.49,854.08 L532.56,855.45 L532.62,856.83 L532.68,858.2 L532.74,859.58 L532.81,860.96 L532.87,862.34 L532.94,863.72 L533.01,865.1 L533.08,866.48 L533.15,867.87 L533.22,869.26 L533.29,870.64 L533.37,872.03 L533.44,873.42 L533.52,874.81 L533.6,876.21 L533.68,877.6 L533.76,878.99 L533.84,880.39 L533.93,881.79 L534.02,883.18 L534.11,884.58 L534.2,885.98 L534.29,887.38 L534.39,888.78 L534.48,890.18 L534.58,891.58 L534.69,892.98 L534.79,894.38 L534.9,895.78 L535.01,897.18 L535.12,898.58 L535.24,899.98 L535.36,901.39 L535.48,902.79 L535.61,904.19 L535.74,905.59 L535.87,906.99 L536,908.39 L536.14,909.8 L536.28,911.2 L536.43,912.6 L536.58,914 L536.73,915.4 L536.88,916.8 L537.04,918.2 L537.21,919.59 L537.37,920.99 L537.55,922.39 L537.72,923.78 L537.9,925.18 L538.09,926.57 L538.27,927.97 L538.47,929.36 L538.66,930.75 L538.87,932.14 L539.07,933.53 L539.28,934.92 L539.5,936.31 L539.72,937.69 L539.95,939.07 L540.18,940.46 L540.41,941.84 L540.65,943.22 L540.9,944.6 L541.15,945.97 L541.41,947.35 L541.67,948.72 L541.94,950.09 L542.21,951.46 L542.49,952.83 L542.77,954.19 L543.06,955.56 L543.36,956.92 L543.66,958.28 L543.97,959.63 L544.28,960.99 L544.61,962.34 L544.93,963.69 L545.27,965.04 L545.61,966.38 L545.95,967.73 L546.3,969.07 L546.66,970.4 L547.03,971.74 L547.4,973.07 L547.78,974.4 L548.17,975.73 L548.56,977.05 L548.96,978.37 L549.37,979.69 L549.79,981.01 L550.21,982.32 L550.64,983.63 L551.08,984.93 L551.52,986.23 L551.97,987.53 L552.43,988.83 L552.9,990.12 L553.38,991.41 L553.86,992.69 L554.35,993.98 L554.85,995.25 L555.36,996.53 L555.88,997.8 L556.4,999.07 L556.93,1000.33 L557.47,1001.59 L558.02,1002.84 L558.58,1004.1 L559.15,1005.34 L559.72,1006.59 L560.31,1007.82 L560.9,1009.06 L561.5,1010.29 L562.11,1011.51 L562.73,1012.74 L563.36,1013.95 L564,1015.16 L564.65,1016.37 L565.31,1017.57 L565.97,1018.76 L566.65,1019.95 L567.34,1021.13 L568.03,1022.31 L568.73,1023.48 L569.45,1024.65 L570.17,1025.8 L570.91,1026.95 L571.65,1028.1 L572.4,1029.23 L573.17,1030.36 L573.94,1031.49 L574.72,1032.6 L575.52,1033.71 L576.32,1034.8 L577.14,1035.9 L577.96,1036.98 L578.8,1038.05 L579.64,1039.12 L580.5,1040.17 L581.36,1041.22 L582.24,1042.26 L583.13,1043.29 L584.03,1044.31 L584.93,1045.32 L585.85,1046.32 L586.78,1047.31 L587.72,1048.29 L588.67,1049.27 L589.62,1050.23 L590.59,1051.19 L591.57,1052.14 L592.55,1053.08 L593.55,1054.01 L594.55,1054.93 L595.56,1055.84 L596.59,1056.74 L597.62,1057.63 L598.65,1058.52 L599.7,1059.4 L600.76,1060.26 L601.82,1061.12 L602.89,1061.97 L603.97,1062.81 L605.06,1063.64 L606.15,1064.47 L607.26,1065.28 L608.37,1066.08 L609.48,1066.88 L610.61,1067.67 L611.74,1068.45 L612.88,1069.22 L614.02,1069.98 L615.18,1070.73 L616.34,1071.48 L617.5,1072.21 L618.67,1072.94 L619.85,1073.65 L621.03,1074.36 L622.23,1075.06 L623.42,1075.76 L624.62,1076.44 L625.83,1077.12 L627.04,1077.79 L628.26,1078.45 L629.48,1079.1 L630.71,1079.75 L631.94,1080.38 L633.18,1081.02 L634.42,1081.64 L635.67,1082.26 L636.92,1082.87 L638.18,1083.47 L639.43,1084.07 L640.7,1084.67 L641.96,1085.25 L643.23,1085.83 L644.51,1086.41 L645.79,1086.98 L647.07,1087.54 L648.35,1088.1 L649.64,1088.66 L650.92,1089.21 L652.22,1089.76 L653.51,1090.3 L654.81,1090.83 L656.1,1091.37 L657.41,1091.89 L658.71,1092.42 L660.01,1092.94 L661.32,1093.46 L662.63,1093.97 L663.93,1094.48 L665.24,1094.99 L666.56,1095.5 L667.87,1096 L669.18,1096.5 L670.49,1097 L671.81,1097.49 L673.12,1097.99 L674.44,1098.48 L675.75,1098.97 L677.07,1099.46 L678.38,1099.95 L679.7,1100.43 L681.01,1100.92 L682.32,1101.4 L683.64,1101.88 L684.95,1102.37 L686.26,1102.85 L687.57,1103.32 L688.89,1103.8 L690.2,1104.28 L691.51,1104.75 L692.82,1105.23 L694.13,1105.7 L695.44,1106.17 L696.75,1106.64 L698.06,1107.11 L699.37,1107.58 L700.68,1108.05 L701.99,1108.51 L703.3,1108.97 L704.61,1109.44 L705.92,1109.9 L707.23,1110.36 L708.54,1110.81 L709.85,1111.27 L711.16,1111.72 L712.47,1112.18 L713.77,1112.63 L715.08,1113.08 L716.39,1113.53 L717.7,1113.97 L719.01,1114.42 L720.32,1114.86 L721.63,1115.3 L722.94,1115.75 L724.25,1116.18 L725.56,1116.62 L726.87,1117.06 L728.18,1117.49 L729.49,1117.92 L730.8,1118.35 L732.11,1118.78 L733.42,1119.21 L734.74,1119.63 L736.05,1120.06 L737.36,1120.48 L738.67,1120.9 L739.98,1121.31 L741.3,1121.73 L742.61,1122.14 L743.92,1122.56 L745.24,1122.97 L746.55,1123.37 L747.87,1123.78 L749.18,1124.18 L750.5,1124.59 L751.81,1124.99 L753.13,1125.38 L754.45,1125.78 L755.77,1126.17 L757.08,1126.57 L758.4,1126.96 L759.72,1127.34 L761.04,1127.73 L762.36,1128.11 L763.69,1128.49 L765.01,1128.87 L766.33,1129.25 L767.65,1129.63 L768.98,1130 L770.3,1130.37 L771.63,1130.74 L772.95,1131.1 L774.28,1131.47 L775.61,1131.83 L776.93,1132.19 L778.26,1132.54 L779.59,1132.9 L780.92,1133.25 L782.26,1133.6 L783.59,1133.95 L784.92,1134.29 L786.26,1134.63 L787.59,1134.97 L788.93,1135.31 L790.26,1135.65 L791.6,1135.98 L792.94,1136.31 L794.28,1136.64 L795.62,1136.96 L796.96,1137.28 L798.31,1137.6 L799.65,1137.92 L801,1138.23 L802.34,1138.55 L803.69,1138.86 L805.04,1139.16 L806.39,1139.47" fill="none" stroke="#0000ff" stroke-width="4"/>
<path d="M531.5,741.95 L544.5,764.05 L518.5,764.05 Z" fill="#0000ff" stroke="#0000ff" stroke-width="0" stroke-linejoin="miter"/>
<path d="M531.5,842.95 L544.5,865.05 L518.5,865.05 Z" fill="#0000ff" stroke="#0000ff" stroke-width="0" stroke-linejoin="miter"/>
<path d="M532.7,856.95 L545.7,879.05 L519.7,879.05 Z" fill="#0000ff" stroke="#0000ff" stroke-width="0" stroke-linejoin="miter"/>
<path d="M536.5,898.95 L549.5,921.05 L523.5,921.05 Z" fill="#0000ff" stroke="#0000ff" stroke-width="0" stroke-linejoin="miter"/>
<path d="M545,950.95 L558,973.05 L532,973.05 Z" fill="#0000ff" stroke="#0000ff" stroke-width="0" stroke-linejoin="miter"/>
<path d="M587.1,1036.95 L600.1,1059.05 L574.1,1059.05 Z" fill="#0000ff" stroke="#0000ff" stroke-width="0" stroke-linejoin="miter"/>
<path d="M254.09,772.17 L254.44,774.16 L254.78,776.15 L255.11,778.13 L255.42,780.12 L255.72,782.11 L256.01,784.11 L256.29,786.1 L256.56,788.1 L256.81,790.09 L257.06,792.09 L257.29,794.09 L257.51,796.09 L257.72,798.1 L257.93,800.1 L258.12,802.11 L258.3,804.11 L258.48,806.12 L258.64,808.13 L258.8,810.14 L258.95,812.15 L259.09,814.16 L259.23,816.18 L259.35,818.19 L259.47,820.21 L259.59,822.23 L259.69,824.25 L259.8,826.27 L259.89,828.29 L259.98,830.31 L260.07,832.33 L260.15,834.35 L260.22,836.38 L260.29,838.4 L260.36,840.43 L260.42,842.46 L260.48,844.49 L260.54,846.52 L260.59,848.55 L260.64,850.58 L260.69,852.61 L260.74,854.64 L260.78,856.67 L260.83,858.71 L260.87,860.74 L260.91,862.78 L260.96,864.81 L261,866.85 L261.04,868.89 L261.08,870.93 L261.12,872.96 L261.17,875 L261.21,877.04 L261.26,879.08 L261.3,881.12 L261.35,883.16 L261.41,885.2 L261.46,887.25 L261.52,889.29 L261.58,891.33 L261.65,893.37 L261.71,895.42 L261.79,897.46 L261.86,899.5 L261.95,901.55 L262.03,903.59 L262.13,905.64 L262.22,907.68 L262.33,909.73 L262.44,911.77 L262.56,913.81 L262.68,915.86 L262.82,917.9 L262.96,919.94 L263.11,921.98 L263.27,924.02 L263.44,926.06 L263.62,928.09 L263.81,930.12 L264.02,932.15 L264.23,934.18 L264.46,936.2 L264.7,938.22 L264.96,940.24 L265.22,942.25 L265.51,944.26 L265.8,946.27 L266.12,948.27 L266.45,950.27 L266.79,952.26 L267.15,954.25 L267.53,956.23 L267.93,958.2 L268.34,960.18 L268.78,962.14 L269.23,964.1 L269.7,966.05 L270.2,968 L270.71,969.94 L271.24,971.87 L271.8,973.8 L272.38,975.71 L272.98,977.62 L273.6,979.53 L274.25,981.42 L274.92,983.31 L275.62,985.18 L276.34,987.05 L277.09,988.91 L277.86,990.76 L278.65,992.61 L279.47,994.44 L280.31,996.26 L281.18,998.08 L282.06,999.88 L282.97,1001.67 L283.91,1003.46 L284.86,1005.23 L285.83,1007 L286.83,1008.75 L287.84,1010.5 L288.88,1012.23 L289.94,1013.95 L291.01,1015.66 L292.1,1017.36 L293.22,1019.05 L294.35,1020.73 L295.5,1022.4 L296.66,1024.06 L297.85,1025.7 L299.05,1027.34 L300.26,1028.96 L301.49,1030.57 L302.74,1032.16 L304.01,1033.75 L305.28,1035.32 L306.58,1036.88 L307.88,1038.43 L309.21,1039.97 L310.54,1041.49 L311.89,1043 L313.25,1044.5 L314.62,1045.98 L316.01,1047.45 L317.4,1048.91 L318.81,1050.35 L320.23,1051.78 L321.66,1053.2 L323.1,1054.6 L324.55,1055.99 L326.01,1057.37 L327.48,1058.73 L328.96,1060.08 L330.45,1061.41 L331.95,1062.74 L333.46,1064.05 L334.98,1065.34 L336.51,1066.63 L338.05,1067.9 L339.6,1069.15 L341.16,1070.4 L342.72,1071.63 L344.3,1072.85 L345.88,1074.06 L347.48,1075.25 L349.08,1076.44 L350.69,1077.61 L352.31,1078.77 L353.94,1079.91 L355.57,1081.05 L357.22,1082.17 L358.87,1083.28 L360.53,1084.38 L362.2,1085.47 L363.88,1086.55 L365.57,1087.61 L367.26,1088.67 L368.96,1089.71 L370.67,1090.74 L372.39,1091.76 L374.11,1092.77 L375.84,1093.77 L377.58,1094.76 L379.33,1095.74 L381.08,1096.71 L382.84,1097.66 L384.6,1098.61 L386.38,1099.55 L388.16,1100.47 L389.94,1101.39 L391.74,1102.29 L393.54,1103.19 L395.34,1104.08 L397.15,1104.95 L398.97,1105.82 L400.8,1106.68 L402.63,1107.52 L404.46,1108.36 L406.3,1109.19 L408.15,1110.01 L410.01,1110.82 L411.86,1111.62 L413.73,1112.41 L415.6,1113.2 L417.47,1113.97 L419.35,1114.74 L421.24,1115.49 L423.13,1116.24 L425.02,1116.98 L426.92,1117.71 L428.83,1118.44 L430.73,1119.15 L432.65,1119.86 L434.57,1120.56 L436.49,1121.25 L438.41,1121.93 L440.34,1122.61 L442.28,1123.28 L444.22,1123.94 L446.16,1124.59 L448.1,1125.23 L450.05,1125.87 L452.01,1126.5 L453.96,1127.13 L455.92,1127.74 L457.89,1128.35 L459.85,1128.96 L461.82,1129.55 L463.8,1130.14 L465.77,1130.72 L467.75,1131.3 L469.73,1131.87 L471.72,1132.43 L473.7,1132.99 L475.69,1133.54 L477.68,1134.09 L479.68,1134.62 L481.67,1135.16 L483.67,1135.68 L485.67,1136.21 L487.67,1136.72 L489.68,1137.23 L491.68,1137.74 L493.69,1138.24 L495.7,1138.73 L497.71,1139.22 L499.72,1139.7 L501.73,1140.18 L503.75,1140.65 L505.76,1141.12 L507.78,1141.59 L509.79,1142.05 L511.81,1142.5 L513.83,1142.95 L515.85,1143.4 L517.87,1143.84 L519.89,1144.27 L521.91,1144.71 L523.93,1145.14 L525.95,1145.56 L527.97,1145.98 L529.99,1146.4 L532.01,1146.81 L534.03,1147.22 L536.05,1147.63 L538.07,1148.03 L540.09,1148.43 L542.11,1148.83 L544.13,1149.22 L546.15,1149.61 L548.17,1150 L550.18,1150.38 L552.2,1150.76 L554.21,1151.14 L556.22,1151.52 L558.23,1151.89 L560.24,1152.26 L562.25,1152.63 L564.26,1152.99 L566.26,1153.36 L568.27,1153.72 L570.27,1154.08 L572.27,1154.43 L574.27,1154.79 L576.27,1155.14 L578.27,1155.49 L580.26,1155.83 L582.26,1156.18 L584.25,1156.52 L586.25,1156.86 L588.24,1157.2 L590.23,1157.53 L592.22,1157.87 L594.21,1158.2 L596.2,1158.53 L598.18,1158.85 L600.17,1159.18 L602.15,1159.5 L604.14,1159.82 L606.12,1160.14 L608.1,1160.45 L610.09,1160.76 L612.07,1161.07 L614.05,1161.38 L616.03,1161.69 L618.01,1161.99 L619.99,1162.29 L621.97,1162.59 L623.95,1162.89 L625.93,1163.19 L627.9,1163.48 L629.88,1163.77 L631.86,1164.06 L633.84,1164.34 L635.81,1164.63 L637.79,1164.91 L639.77,1165.19 L641.74,1165.47 L643.72,1165.74 L645.7,1166.02 L647.67,1166.29 L649.65,1166.56 L651.63,1166.83 L653.6,1167.09 L655.58,1167.35 L657.56,1167.61 L659.53,1167.87 L661.51,1168.13 L663.49,1168.38 L665.47,1168.64 L667.44,1168.89 L669.42,1169.14 L671.4,1169.38 L673.38,1169.63 L675.36,1169.87 L677.34,1170.11 L679.32,1170.35 L681.31,1170.58 L683.29,1170.82 L685.27,1171.05 L687.26,1171.28 L689.24,1171.51 L691.23,1171.73 L693.21,1171.96 L695.2,1172.18 L697.19,1172.4 L699.18,1172.62 L701.17,1172.83 L703.16,1173.05 L705.15,1173.26 L707.14,1173.47 L709.14,1173.68 L711.13,1173.89 L713.13,1174.09 L715.13,1174.29 L717.12,1174.5 L719.12,1174.69 L721.13,1174.89 L723.13,1175.09 L725.13,1175.28 L727.14,1175.47 L729.15,1175.66 L731.16,1175.85 L733.17,1176.03 L735.18,1176.22 L737.19,1176.4 L739.21,1176.58 L741.22,1176.76 L743.24,1176.93 L745.26,1177.11 L747.28,1177.28 L749.31,1177.45 L751.33,1177.62 L753.36,1177.79 L755.39,1177.95 L757.42,1178.12 L759.45,1178.28 L761.49,1178.44 L763.53,1178.6 L765.57,1178.75 L767.61,1178.91 L769.65,1179.06 L771.7,1179.21 L773.75,1179.36 L775.8,1179.51 L777.85,1179.66 L779.91,1179.8 L781.96,1179.94 L784.02,1180.08 L786.09,1180.22 L788.15,1180.36 L790.22,1180.5 L792.29,1180.63 L794.36,1180.76 L796.44,1180.89 L798.52,1181.02 L800.6,1181.15 L802.68,1181.28 L804.77,1181.4 L806.86,1181.52" fill="none" stroke="#008080" stroke-width="4"/>
<path d="M254.6,791.55 L267.6,769.45 L241.6,769.45 Z" fill="#008080" stroke="#008080" stroke-width="0"/>
<path d="M255.5,796.55 L268.5,774.45 L242.5,774.45 Z" fill="#008080" stroke="#008080" stroke-width="0"/>
<path d="M256.5,803.55 L269.5,781.45 L243.5,781.45 Z" fill="#008080" stroke="#008080" stroke-width="0"/>
<path d="M257.9,814.55 L270.9,792.45 L244.9,792.45 Z" fill="#008080" stroke="#008080" stroke-width="0"/>
<path d="M259.2,838.55 L272.2,816.45 L246.2,816.45 Z" fill="#008080" stroke="#008080" stroke-width="0"/>
<path d="M263.2,907.55 L276.2,885.45 L250.2,885.45 Z" fill="#008080" stroke="#008080" stroke-width="0"/>
<path d="M347.8,1089.55 L360.8,1067.45 L334.8,1067.45 Z" fill="#008080" stroke="#008080" stroke-width="0"/>
</g>
<rect x="116.5" y="687.0" width="690.0" height="506.5" fill="none" stroke="#000" stroke-width="4"/>
<path d="M116.5,1193.5 H127.5 M116.5,1163.01 H123 M116.5,1145.17 H123 M116.5,1132.51 H123 M116.5,1122.69 H123 M116.5,1114.67 H123 M116.5,1107.89 H123 M116.5,1102.02 H123 M116.5,1096.84 H123 M116.5,1092.2 H127.5 M116.5,1061.71 H123 M116.5,1043.87 H123 M116.5,1031.21 H123 M116.5,1021.39 H123 M116.5,1013.37 H123 M116.5,1006.59 H123 M116.5,1000.72 H123 M116.5,995.54 H123 M116.5,990.9 H127.5 M116.5,960.41 H123 M116.5,942.57 H123 M116.5,929.91 H123 M116.5,920.09 H123 M116.5,912.07 H123 M116.5,905.29 H123 M116.5,899.42 H123 M116.5,894.24 H123 M116.5,889.6 H127.5 M116.5,859.11 H123 M116.5,841.27 H123 M116.5,828.61 H123 M116.5,818.79 H123 M116.5,810.77 H123 M116.5,803.99 H123 M116.5,798.12 H123 M116.5,792.94 H123 M116.5,788.3 H127.5 M116.5,757.81 H123 M116.5,739.97 H123 M116.5,727.31 H123 M116.5,717.49 H123 M116.5,709.47 H123 M116.5,702.69 H123 M116.5,696.82 H123 M116.5,691.64 H123 M116.5,687 H127.5 M116.5,1193.5 V1182.5 M254.5,1193.5 V1182.5 M392.5,1193.5 V1182.5 M530.5,1193.5 V1182.5 M668.5,1193.5 V1182.5 M806.5,1193.5 V1182.5 M185.5,1193.5 V1187 M323.5,1193.5 V1187 M461.5,1193.5 V1187 M599.5,1193.5 V1187 M737.5,1193.5 V1187" stroke="#000" stroke-width="3" fill="none"/>
<g transform="translate(86.37,1203.59) scale(1.0459,1.0036)"><text font-family='"Liberation Sans", sans-serif' font-size="28" x="-31.14 -15.57" style="white-space:pre"> 0</text><path d="M-20.7,0 L-23.16,0 L-23.16,-15.68 L-24.06,-14.9 L-25.49,-14.06 L-26.97,-13.36 L-26.97,-15.74 L-24.31,-17 L-22.6,-18.7 L-21.57,-20.05 L-20.7,-20.05Z" fill="#000"/></g>
<g transform="translate(86.57,1188.91) scale(0.9876,1.0085)"><text font-family='"Liberation Sans", sans-serif' font-size="16" x="0 8.9" style="white-space:pre"> 6</text><path d="M5.97,0 L4.56,0 L4.56,-8.96 L4.05,-8.51 L3.23,-8.03 L2.38,-7.63 L2.38,-8.99 L3.9,-9.71 L4.88,-10.69 L5.47,-11.46 L5.97,-11.46Z" fill="#000"/></g>
<g transform="translate(86.37,1102.29) scale(1.0459,1.0036)"><text font-family='"Liberation Sans", sans-serif' font-size="28" x="-31.14 -15.57" style="white-space:pre"> 0</text><path d="M-20.7,0 L-23.16,0 L-23.16,-15.68 L-24.06,-14.9 L-25.49,-14.06 L-26.97,-13.36 L-26.97,-15.74 L-24.31,-17 L-22.6,-18.7 L-21.57,-20.05 L-20.7,-20.05Z" fill="#000"/></g>
<g transform="translate(86.57,1087.61) scale(0.9876,1.0085)"><text font-family='"Liberation Sans", sans-serif' font-size="16" x="0 8.9" style="white-space:pre"> 7</text><path d="M5.97,0 L4.56,0 L4.56,-8.96 L4.05,-8.51 L3.23,-8.03 L2.38,-7.63 L2.38,-8.99 L3.9,-9.71 L4.88,-10.69 L5.47,-11.46 L5.97,-11.46Z" fill="#000"/></g>
<g transform="translate(86.37,1000.99) scale(1.0459,1.0036)"><text font-family='"Liberation Sans", sans-serif' font-size="28" x="-31.14 -15.57" style="white-space:pre"> 0</text><path d="M-20.7,0 L-23.16,0 L-23.16,-15.68 L-24.06,-14.9 L-25.49,-14.06 L-26.97,-13.36 L-26.97,-15.74 L-24.31,-17 L-22.6,-18.7 L-21.57,-20.05 L-20.7,-20.05Z" fill="#000"/></g>
<g transform="translate(86.57,986.31) scale(0.9876,1.0085)"><text font-family='"Liberation Sans", sans-serif' font-size="16" x="0 8.9" style="white-space:pre"> 8</text><path d="M5.97,0 L4.56,0 L4.56,-8.96 L4.05,-8.51 L3.23,-8.03 L2.38,-7.63 L2.38,-8.99 L3.9,-9.71 L4.88,-10.69 L5.47,-11.46 L5.97,-11.46Z" fill="#000"/></g>
<g transform="translate(86.37,899.69) scale(1.0459,1.0036)"><text font-family='"Liberation Sans", sans-serif' font-size="28" x="-31.14 -15.57" style="white-space:pre"> 0</text><path d="M-20.7,0 L-23.16,0 L-23.16,-15.68 L-24.06,-14.9 L-25.49,-14.06 L-26.97,-13.36 L-26.97,-15.74 L-24.31,-17 L-22.6,-18.7 L-21.57,-20.05 L-20.7,-20.05Z" fill="#000"/></g>
<g transform="translate(86.57,885.01) scale(0.9876,1.0085)"><text font-family='"Liberation Sans", sans-serif' font-size="16" x="0 8.9" style="white-space:pre"> 9</text><path d="M5.97,0 L4.56,0 L4.56,-8.96 L4.05,-8.51 L3.23,-8.03 L2.38,-7.63 L2.38,-8.99 L3.9,-9.71 L4.88,-10.69 L5.47,-11.46 L5.97,-11.46Z" fill="#000"/></g>
<g id="t_yb" transform="translate(86.37,798.39) scale(1.0459,1.0036)"><text font-family='"Liberation Sans", sans-serif' font-size="28" x="-31.14 -15.57" style="white-space:pre"> 0</text><path d="M-20.7,0 L-23.16,0 L-23.16,-15.68 L-24.06,-14.9 L-25.49,-14.06 L-26.97,-13.36 L-26.97,-15.74 L-24.31,-17 L-22.6,-18.7 L-21.57,-20.05 L-20.7,-20.05Z" fill="#000"/></g>
<g id="t_ybs" transform="translate(86.57,783.71) scale(0.9876,1.0085)"><text font-family='"Liberation Sans", sans-serif' font-size="16" x="0 8.9" style="white-space:pre">20</text></g>
<g transform="translate(86.37,697.09) scale(1.0459,1.0036)"><text font-family='"Liberation Sans", sans-serif' font-size="28" x="-31.14 -15.57" style="white-space:pre"> 0</text><path d="M-20.7,0 L-23.16,0 L-23.16,-15.68 L-24.06,-14.9 L-25.49,-14.06 L-26.97,-13.36 L-26.97,-15.74 L-24.31,-17 L-22.6,-18.7 L-21.57,-20.05 L-20.7,-20.05Z" fill="#000"/></g>
<g transform="translate(86.57,682.41) scale(0.9876,1.0085)"><text font-family='"Liberation Sans", sans-serif' font-size="16" x="0 8.9" style="white-space:pre">2 </text><path d="M14.87,0 L13.46,0 L13.46,-8.96 L12.95,-8.51 L12.13,-8.03 L11.28,-7.63 L11.28,-8.99 L12.8,-9.71 L13.78,-10.69 L14.37,-11.46 L14.87,-11.46Z" fill="#000"/></g>
<g transform="translate(115.8,1226.74) scale(0.9732,1.0526)"><text font-family='"Liberation Sans", sans-serif' font-size="28" x="-7.79" style="white-space:pre">0</text></g>
<g id="t_xb" transform="translate(253.8,1226.74) scale(0.9732,1.0526)"><text font-family='"Liberation Sans", sans-serif' font-size="28" x="-15.57 0" style="white-space:pre">20</text></g>
<g transform="translate(391.8,1226.74) scale(0.9732,1.0526)"><text font-family='"Liberation Sans", sans-serif' font-size="28" x="-15.57 0" style="white-space:pre">40</text></g>
<g transform="translate(529.8,1226.74) scale(0.9732,1.0526)"><text font-family='"Liberation Sans", sans-serif' font-size="28" x="-15.57 0" style="white-space:pre">60</text></g>
<g transform="translate(667.8,1226.74) scale(0.9732,1.0526)"><text font-family='"Liberation Sans", sans-serif' font-size="28" x="-15.57 0" style="white-space:pre">80</text></g>
<g transform="translate(805.8,1226.74) scale(0.9732,1.0526)"><text font-family='"Liberation Sans", sans-serif' font-size="28" x="-23.36 -7.79 7.79" style="white-space:pre"> 00</text><path d="M-12.91,0 L-15.38,0 L-15.38,-15.68 L-16.27,-14.9 L-17.7,-14.06 L-19.19,-13.36 L-19.19,-15.74 L-16.53,-17 L-14.82,-18.7 L-13.78,-20.05 L-12.91,-20.05Z" fill="#000"/></g>
</svg>
</body></html>
